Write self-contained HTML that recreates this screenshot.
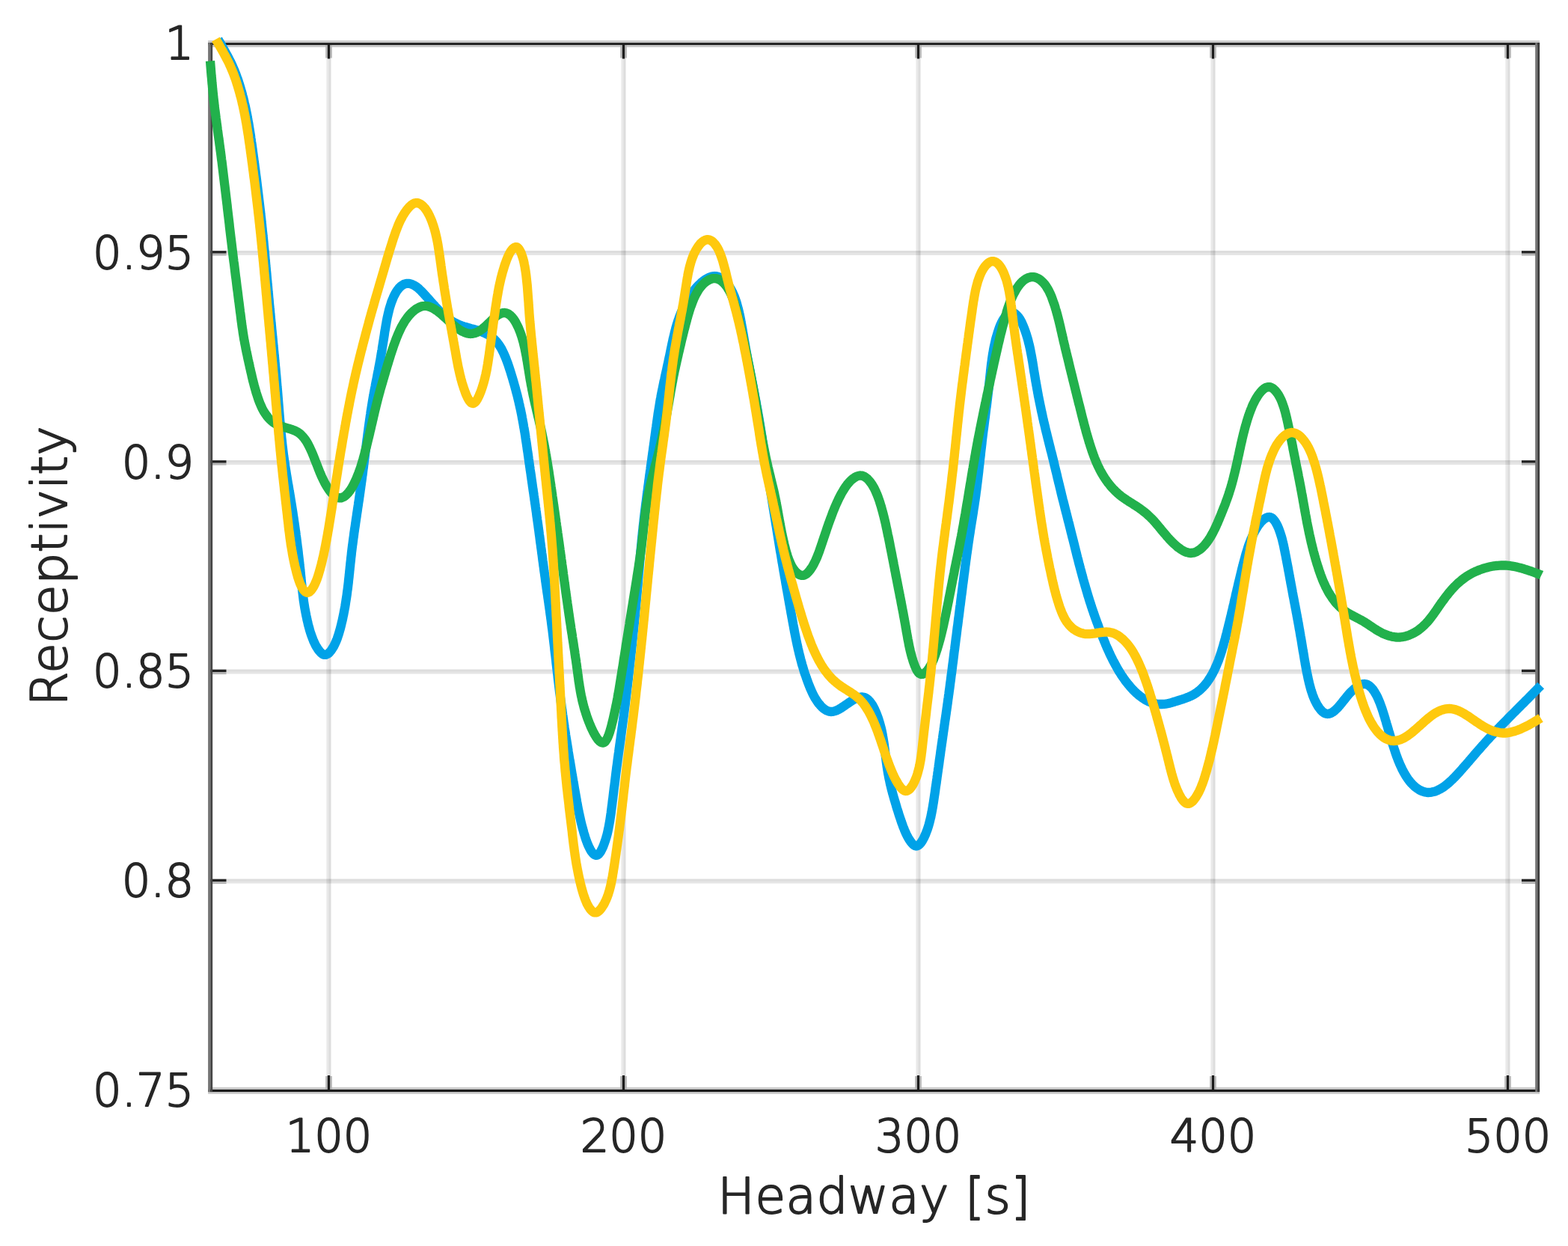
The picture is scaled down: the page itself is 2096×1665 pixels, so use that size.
<!DOCTYPE html>
<html lang="en">
<head>
<meta charset="utf-8">
<title>Receptivity vs Headway</title>
<style>
html,body{margin:0;padding:0;background:#fff;}
body{width:2096px;height:1665px;overflow:hidden;font-family:"DejaVu Sans","Liberation Sans",sans-serif;}
svg{display:block;filter:blur(0.75px);}
</style>
</head>
<body>
<svg width="2096" height="1665" viewBox="0 0 2096 1665">
<rect x="0" y="0" width="2096" height="1665" fill="#ffffff"/>
<rect x="436.4" y="58.5" width="3.1" height="1398.5" fill="#000" fill-opacity="0.085"/>
<rect x="439.5" y="58.5" width="3.0" height="1398.5" fill="#000" fill-opacity="0.135"/>
<rect x="830.4" y="58.5" width="3.1" height="1398.5" fill="#000" fill-opacity="0.085"/>
<rect x="833.5" y="58.5" width="3.0" height="1398.5" fill="#000" fill-opacity="0.135"/>
<rect x="1224.4" y="58.5" width="3.1" height="1398.5" fill="#000" fill-opacity="0.085"/>
<rect x="1227.5" y="58.5" width="3.0" height="1398.5" fill="#000" fill-opacity="0.135"/>
<rect x="1618.4" y="58.5" width="3.1" height="1398.5" fill="#000" fill-opacity="0.085"/>
<rect x="1621.5" y="58.5" width="3.0" height="1398.5" fill="#000" fill-opacity="0.135"/>
<rect x="2012.4" y="58.5" width="3.1" height="1398.5" fill="#000" fill-opacity="0.085"/>
<rect x="2015.5" y="58.5" width="3.0" height="1398.5" fill="#000" fill-opacity="0.135"/>
<rect x="281.5" y="335.0" width="1773.5" height="3.0" fill="#000" fill-opacity="0.135"/>
<rect x="281.5" y="338.0" width="1773.5" height="3.0" fill="#000" fill-opacity="0.10"/>
<rect x="281.5" y="615.0" width="1773.5" height="3.0" fill="#000" fill-opacity="0.135"/>
<rect x="281.5" y="618.0" width="1773.5" height="3.0" fill="#000" fill-opacity="0.10"/>
<rect x="281.5" y="894.5" width="1773.5" height="3.0" fill="#000" fill-opacity="0.135"/>
<rect x="281.5" y="897.5" width="1773.5" height="3.0" fill="#000" fill-opacity="0.10"/>
<rect x="281.5" y="1174.5" width="1773.5" height="3.0" fill="#000" fill-opacity="0.135"/>
<rect x="281.5" y="1177.5" width="1773.5" height="3.0" fill="#000" fill-opacity="0.10"/>
<rect x="278.1" y="54.1" width="1780.0" height="9" fill="#cacaca"/>
<rect x="278.1" y="1452.8" width="1780.0" height="9.1" fill="#cdcdcd"/>
<rect x="435.2" y="1438.0" width="8.6" height="19" fill="#b6b6b6"/>
<rect x="435.2" y="58.5" width="8.6" height="19" fill="#b6b6b6"/>
<rect x="437.9" y="1437.0" width="3.2" height="20" fill="#1c1c1c"/>
<rect x="437.9" y="58.5" width="3.2" height="20" fill="#1c1c1c"/>
<rect x="829.2" y="1438.0" width="8.6" height="19" fill="#b6b6b6"/>
<rect x="829.2" y="58.5" width="8.6" height="19" fill="#b6b6b6"/>
<rect x="831.9" y="1437.0" width="3.2" height="20" fill="#1c1c1c"/>
<rect x="831.9" y="58.5" width="3.2" height="20" fill="#1c1c1c"/>
<rect x="1223.2" y="1438.0" width="8.6" height="19" fill="#b6b6b6"/>
<rect x="1223.2" y="58.5" width="8.6" height="19" fill="#b6b6b6"/>
<rect x="1225.9" y="1437.0" width="3.2" height="20" fill="#1c1c1c"/>
<rect x="1225.9" y="58.5" width="3.2" height="20" fill="#1c1c1c"/>
<rect x="1617.2" y="1438.0" width="8.6" height="19" fill="#b6b6b6"/>
<rect x="1617.2" y="58.5" width="8.6" height="19" fill="#b6b6b6"/>
<rect x="1619.9" y="1437.0" width="3.2" height="20" fill="#1c1c1c"/>
<rect x="1619.9" y="58.5" width="3.2" height="20" fill="#1c1c1c"/>
<rect x="2011.2" y="1438.0" width="8.6" height="19" fill="#b6b6b6"/>
<rect x="2011.2" y="58.5" width="8.6" height="19" fill="#b6b6b6"/>
<rect x="2013.9" y="1437.0" width="3.2" height="20" fill="#1c1c1c"/>
<rect x="2013.9" y="58.5" width="3.2" height="20" fill="#1c1c1c"/>
<rect x="281.5" y="338.4" width="21" height="3.2" fill="#b4b4b4"/>
<rect x="2034.0" y="338.4" width="21" height="3.2" fill="#b4b4b4"/>
<rect x="281.5" y="335.2" width="21" height="3.3" fill="#222222"/>
<rect x="2034.0" y="335.2" width="21" height="3.3" fill="#222222"/>
<rect x="281.5" y="618.4" width="21" height="3.2" fill="#b4b4b4"/>
<rect x="2034.0" y="618.4" width="21" height="3.2" fill="#b4b4b4"/>
<rect x="281.5" y="615.2" width="21" height="3.3" fill="#222222"/>
<rect x="2034.0" y="615.2" width="21" height="3.3" fill="#222222"/>
<rect x="281.5" y="897.9" width="21" height="3.2" fill="#b4b4b4"/>
<rect x="2034.0" y="897.9" width="21" height="3.2" fill="#b4b4b4"/>
<rect x="281.5" y="894.7" width="21" height="3.3" fill="#222222"/>
<rect x="2034.0" y="894.7" width="21" height="3.3" fill="#222222"/>
<rect x="281.5" y="1177.9" width="21" height="3.2" fill="#b4b4b4"/>
<rect x="2034.0" y="1177.9" width="21" height="3.2" fill="#b4b4b4"/>
<rect x="281.5" y="1174.7" width="21" height="3.3" fill="#222222"/>
<rect x="2034.0" y="1174.7" width="21" height="3.3" fill="#222222"/>
<rect x="278.1" y="57.2" width="1780.0" height="2.9" fill="#1b1b1b"/>
<rect x="278.1" y="1455.9" width="1780.0" height="3.2" fill="#1b1b1b"/>
<rect x="278.1" y="57.2" width="3.15" height="1401.9" fill="#757575"/>
<rect x="281.25" y="57.2" width="2.9" height="1401.9" fill="#444444"/>
<rect x="2052.2" y="57.2" width="3.0" height="1401.9" fill="#757575"/>
<rect x="2055.2" y="57.2" width="2.9" height="1401.9" fill="#3c3c3c"/>
<g fill="none" stroke-width="12.3" stroke-linejoin="round" stroke-linecap="butt">
<path stroke="#00a2e8" d="M291.5,52.5 L292.7,54.7 L294.0,56.8 L295.2,59.0 L296.5,61.2 L297.7,63.4 L298.9,65.5 L300.2,67.7 L301.4,69.9 L302.6,72.1 L303.8,74.3 L305.0,76.5 L306.1,78.7 L307.3,80.9 L308.4,83.1 L309.5,85.4 L310.5,87.6 L311.5,89.9 L312.5,92.2 L313.5,94.5 L314.4,96.8 L315.3,99.1 L316.2,101.4 L317.0,103.8 L317.9,106.1 L318.7,108.5 L319.4,110.9 L320.2,113.3 L320.9,115.6 L321.6,118.0 L322.3,120.4 L323.0,122.8 L323.7,125.2 L324.3,127.7 L325.0,130.1 L325.6,132.5 L326.2,134.9 L326.7,137.4 L327.3,139.8 L327.9,142.2 L328.4,144.7 L328.9,147.1 L329.4,149.6 L329.9,152.0 L330.4,154.5 L330.8,156.9 L331.3,159.4 L331.7,161.9 L332.2,164.3 L332.6,166.8 L333.0,169.3 L333.4,171.7 L333.8,174.2 L334.2,176.7 L334.6,179.2 L335.0,181.6 L335.3,184.1 L335.7,186.6 L336.0,189.1 L336.4,191.5 L336.8,194.0 L337.1,196.5 L337.5,199.0 L337.8,201.5 L338.1,203.9 L338.5,206.4 L338.8,208.9 L339.2,211.4 L339.5,213.9 L339.8,216.3 L340.2,218.8 L340.5,221.3 L340.8,223.8 L341.2,226.3 L341.5,228.7 L341.8,231.2 L342.1,233.7 L342.5,236.2 L342.8,238.7 L343.1,241.1 L343.4,243.6 L343.7,246.1 L344.0,248.6 L344.3,251.1 L344.6,253.6 L344.9,256.0 L345.2,258.5 L345.5,261.0 L345.8,263.5 L346.1,266.0 L346.4,268.4 L346.7,270.9 L347.0,273.4 L347.3,275.9 L347.6,278.4 L347.9,280.9 L348.2,283.3 L348.4,285.8 L348.7,288.3 L349.0,290.8 L349.3,293.3 L349.5,295.8 L349.8,298.2 L350.1,300.7 L350.3,303.2 L350.6,305.7 L350.8,308.2 L351.1,310.7 L351.4,313.2 L351.6,315.6 L351.9,318.1 L352.1,320.6 L352.4,323.1 L352.6,325.6 L352.8,328.1 L353.1,330.6 L353.3,333.1 L353.6,335.5 L353.8,338.0 L354.0,340.5 L354.3,343.0 L354.5,345.5 L354.7,348.0 L355.0,350.5 L355.2,353.0 L355.4,355.5 L355.7,357.9 L355.9,360.4 L356.1,362.9 L356.4,365.4 L356.6,367.9 L356.8,370.4 L357.0,372.9 L357.3,375.4 L357.5,377.9 L357.7,380.3 L358.0,382.8 L358.2,385.3 L358.4,387.8 L358.6,390.3 L358.9,392.8 L359.1,395.3 L359.3,397.8 L359.6,400.3 L359.8,402.8 L360.0,405.2 L360.2,407.7 L360.5,410.2 L360.7,412.7 L361.0,415.2 L361.2,417.7 L361.4,420.2 L361.7,422.7 L361.9,425.2 L362.1,427.6 L362.4,430.1 L362.6,432.6 L362.9,435.1 L363.1,437.6 L363.3,440.1 L363.6,442.6 L363.8,445.1 L364.1,447.6 L364.3,450.0 L364.6,452.5 L364.8,455.0 L365.0,457.5 L365.3,460.0 L365.5,462.5 L365.8,465.0 L366.0,467.5 L366.2,469.9 L366.5,472.4 L366.7,474.9 L367.0,477.4 L367.2,479.9 L367.4,482.4 L367.7,484.9 L367.9,487.4 L368.1,489.9 L368.4,492.3 L368.6,494.8 L368.8,497.3 L369.0,499.8 L369.3,502.3 L369.5,504.8 L369.7,507.3 L369.9,509.8 L370.1,512.3 L370.3,514.8 L370.5,517.3 L370.8,519.7 L371.0,522.2 L371.2,524.7 L371.4,527.2 L371.6,529.7 L371.8,532.2 L372.0,534.7 L372.2,537.2 L372.4,539.7 L372.6,542.2 L372.8,544.7 L373.0,547.2 L373.2,549.7 L373.4,552.2 L373.6,554.7 L373.8,557.1 L374.0,559.6 L374.2,562.1 L374.4,564.6 L374.7,567.1 L374.9,569.6 L375.1,572.1 L375.3,574.6 L375.6,577.1 L375.8,579.6 L376.1,582.0 L376.3,584.5 L376.6,587.0 L376.9,589.5 L377.1,592.0 L377.4,594.5 L377.7,597.0 L378.0,599.4 L378.3,601.9 L378.6,604.4 L378.9,606.9 L379.2,609.3 L379.6,611.8 L379.9,614.3 L380.3,616.8 L380.6,619.2 L381.0,621.7 L381.4,624.2 L381.8,626.7 L382.2,629.1 L382.6,631.6 L383.0,634.1 L383.4,636.5 L383.8,639.0 L384.2,641.4 L384.6,643.9 L385.0,646.4 L385.5,648.8 L385.9,651.3 L386.3,653.8 L386.7,656.2 L387.2,658.7 L387.6,661.2 L388.0,663.6 L388.4,666.1 L388.8,668.6 L389.2,671.0 L389.6,673.5 L390.0,676.0 L390.4,678.5 L390.8,680.9 L391.2,683.4 L391.6,685.9 L391.9,688.4 L392.3,690.8 L392.7,693.3 L393.0,695.8 L393.4,698.3 L393.8,700.7 L394.1,703.2 L394.5,705.7 L394.8,708.2 L395.2,710.6 L395.5,713.1 L395.8,715.6 L396.2,718.1 L396.5,720.5 L396.8,723.0 L397.1,725.5 L397.4,728.0 L397.7,730.4 L398.1,732.9 L398.4,735.4 L398.7,737.9 L398.9,740.3 L399.2,742.8 L399.5,745.3 L399.8,747.8 L400.1,750.2 L400.4,752.7 L400.6,755.2 L400.9,757.7 L401.2,760.1 L401.4,762.6 L401.7,765.1 L401.9,767.5 L402.2,770.0 L402.4,772.5 L402.7,774.9 L402.9,777.4 L403.2,779.9 L403.4,782.4 L403.7,784.8 L404.0,787.3 L404.3,789.8 L404.6,792.3 L404.9,794.8 L405.2,797.3 L405.5,799.9 L405.8,802.4 L406.2,804.9 L406.6,807.5 L407.0,810.0 L407.4,812.6 L407.9,815.2 L408.4,817.8 L408.9,820.4 L409.4,823.0 L410.0,825.7 L410.5,828.3 L411.2,831.0 L411.8,833.7 L412.5,836.4 L413.3,839.2 L414.0,841.9 L414.8,844.6 L415.7,847.3 L416.6,849.9 L417.6,852.5 L418.6,855.1 L419.6,857.6 L420.8,860.0 L421.9,862.3 L423.2,864.5 L424.5,866.6 L425.9,868.6 L427.3,870.4 L428.8,872.0 L430.3,873.3 L431.8,874.3 L433.3,874.8 L434.9,874.9 L436.4,874.6 L438.0,873.8 L439.5,872.7 L440.9,871.2 L442.4,869.5 L443.7,867.6 L445.0,865.5 L446.3,863.4 L447.4,861.1 L448.5,858.7 L449.6,856.2 L450.6,853.7 L451.5,851.1 L452.4,848.4 L453.2,845.7 L454.0,843.0 L454.8,840.3 L455.5,837.5 L456.2,834.8 L456.8,832.0 L457.5,829.3 L458.1,826.6 L458.6,824.0 L459.2,821.3 L459.7,818.6 L460.2,816.0 L460.7,813.4 L461.2,810.8 L461.6,808.2 L462.0,805.6 L462.4,803.1 L462.8,800.5 L463.2,798.0 L463.6,795.4 L463.9,792.9 L464.2,790.4 L464.6,787.9 L464.9,785.4 L465.2,782.9 L465.5,780.4 L465.8,778.0 L466.0,775.5 L466.3,773.0 L466.6,770.6 L466.8,768.1 L467.1,765.7 L467.3,763.2 L467.6,760.8 L467.8,758.3 L468.1,755.9 L468.3,753.5 L468.6,751.0 L468.9,748.6 L469.1,746.1 L469.4,743.7 L469.7,741.3 L469.9,738.8 L470.2,736.4 L470.5,733.9 L470.8,731.5 L471.1,729.0 L471.5,726.5 L471.8,724.1 L472.1,721.6 L472.4,719.2 L472.8,716.7 L473.1,714.2 L473.4,711.8 L473.8,709.3 L474.1,706.8 L474.5,704.4 L474.9,701.9 L475.2,699.4 L475.6,696.9 L475.9,694.5 L476.3,692.0 L476.7,689.5 L477.0,687.0 L477.4,684.5 L477.8,682.1 L478.1,679.6 L478.5,677.1 L478.9,674.6 L479.2,672.1 L479.6,669.7 L480.0,667.2 L480.3,664.7 L480.7,662.2 L481.0,659.7 L481.4,657.2 L481.7,654.8 L482.1,652.3 L482.4,649.8 L482.8,647.3 L483.1,644.8 L483.5,642.3 L483.8,639.9 L484.1,637.4 L484.5,634.9 L484.8,632.4 L485.1,629.9 L485.4,627.4 L485.8,625.0 L486.1,622.5 L486.4,620.0 L486.7,617.5 L487.0,615.0 L487.4,612.6 L487.7,610.1 L488.0,607.6 L488.3,605.1 L488.6,602.6 L488.9,600.2 L489.3,597.7 L489.6,595.2 L489.9,592.7 L490.2,590.3 L490.5,587.8 L490.9,585.3 L491.2,582.8 L491.5,580.3 L491.8,577.9 L492.2,575.4 L492.5,572.9 L492.8,570.4 L493.2,568.0 L493.5,565.5 L493.9,563.0 L494.2,560.5 L494.6,558.1 L494.9,555.6 L495.3,553.1 L495.6,550.6 L496.0,548.2 L496.4,545.7 L496.8,543.2 L497.2,540.8 L497.6,538.3 L498.0,535.8 L498.4,533.4 L498.8,530.9 L499.3,528.4 L499.7,526.0 L500.2,523.5 L500.6,521.1 L501.1,518.6 L501.6,516.2 L502.0,513.7 L502.5,511.3 L503.0,508.8 L503.5,506.4 L504.0,503.9 L504.4,501.5 L504.9,499.0 L505.4,496.6 L505.9,494.1 L506.3,491.7 L506.8,489.2 L507.3,486.8 L507.7,484.3 L508.2,481.9 L508.6,479.4 L509.0,476.9 L509.4,474.5 L509.8,472.0 L510.3,469.6 L510.7,467.1 L511.0,464.6 L511.4,462.2 L511.8,459.7 L512.2,457.2 L512.6,454.7 L513.0,452.2 L513.4,449.7 L513.8,447.2 L514.1,444.7 L514.5,442.2 L515.0,439.7 L515.4,437.2 L515.8,434.6 L516.3,432.1 L516.7,429.5 L517.2,427.0 L517.7,424.4 L518.3,421.8 L518.9,419.2 L519.5,416.7 L520.1,414.1 L520.8,411.5 L521.6,409.0 L522.4,406.5 L523.2,403.9 L524.2,401.4 L525.2,399.0 L526.2,396.5 L527.4,394.2 L528.6,391.9 L529.9,389.7 L531.3,387.6 L532.8,385.7 L534.4,383.9 L536.1,382.3 L538.0,381.0 L539.9,379.9 L541.9,379.2 L544.0,378.8 L546.2,378.8 L548.5,379.2 L550.8,380.0 L553.0,381.0 L555.2,382.3 L557.3,383.7 L559.3,385.3 L561.2,387.1 L563.1,388.9 L564.9,390.8 L566.6,392.7 L568.3,394.6 L570.1,396.5 L571.8,398.4 L573.4,400.2 L575.1,402.1 L576.8,404.0 L578.5,405.9 L580.2,407.7 L581.9,409.6 L583.6,411.4 L585.3,413.2 L587.0,415.0 L588.8,416.8 L590.6,418.5 L592.4,420.2 L594.3,421.8 L596.2,423.4 L598.1,425.0 L600.1,426.4 L602.2,427.9 L604.2,429.2 L606.3,430.5 L608.5,431.7 L610.7,432.7 L613.0,433.8 L615.3,434.7 L617.7,435.5 L620.0,436.3 L622.4,437.0 L624.9,437.7 L627.3,438.4 L629.8,439.1 L632.2,439.7 L634.6,440.4 L637.1,441.1 L639.5,441.9 L641.8,442.6 L644.2,443.5 L646.5,444.4 L648.7,445.4 L650.9,446.5 L653.0,447.7 L655.1,448.9 L657.0,450.3 L658.9,451.8 L660.7,453.4 L662.4,455.1 L664.0,456.9 L665.5,458.8 L667.0,460.7 L668.3,462.8 L669.6,464.8 L670.8,467.0 L671.9,469.2 L673.0,471.4 L674.0,473.7 L675.0,476.0 L676.0,478.4 L676.9,480.7 L677.8,483.1 L678.7,485.5 L679.5,487.9 L680.3,490.3 L681.1,492.7 L681.9,495.2 L682.7,497.6 L683.4,500.0 L684.1,502.4 L684.9,504.9 L685.6,507.3 L686.3,509.7 L687.0,512.2 L687.7,514.6 L688.4,517.0 L689.0,519.4 L689.7,521.9 L690.3,524.3 L691.0,526.7 L691.6,529.1 L692.2,531.6 L692.8,534.0 L693.4,536.4 L693.9,538.9 L694.5,541.3 L695.0,543.8 L695.6,546.2 L696.1,548.6 L696.6,551.1 L697.1,553.5 L697.6,556.0 L698.0,558.5 L698.5,560.9 L698.9,563.4 L699.4,565.8 L699.8,568.3 L700.2,570.8 L700.7,573.2 L701.1,575.7 L701.5,578.1 L701.9,580.6 L702.3,583.1 L702.6,585.6 L703.0,588.0 L703.4,590.5 L703.8,593.0 L704.1,595.4 L704.5,597.9 L704.8,600.4 L705.2,602.9 L705.6,605.3 L705.9,607.8 L706.3,610.3 L706.6,612.8 L707.0,615.2 L707.3,617.7 L707.7,620.2 L708.0,622.7 L708.4,625.1 L708.7,627.6 L709.1,630.1 L709.5,632.6 L709.8,635.0 L710.2,637.5 L710.5,640.0 L710.9,642.5 L711.2,644.9 L711.6,647.4 L711.9,649.9 L712.3,652.4 L712.6,654.8 L713.0,657.3 L713.4,659.8 L713.7,662.3 L714.1,664.7 L714.4,667.2 L714.8,669.7 L715.1,672.2 L715.5,674.6 L715.8,677.1 L716.2,679.6 L716.5,682.1 L716.9,684.5 L717.2,687.0 L717.5,689.5 L717.9,692.0 L718.2,694.5 L718.6,696.9 L718.9,699.4 L719.3,701.9 L719.6,704.4 L719.9,706.8 L720.3,709.3 L720.6,711.8 L720.9,714.3 L721.3,716.7 L721.6,719.2 L721.9,721.7 L722.2,724.2 L722.6,726.7 L722.9,729.1 L723.2,731.6 L723.6,734.1 L723.9,736.6 L724.2,739.1 L724.6,741.5 L724.9,744.0 L725.2,746.5 L725.5,749.0 L725.9,751.4 L726.2,753.9 L726.5,756.4 L726.9,758.9 L727.2,761.4 L727.5,763.8 L727.9,766.3 L728.2,768.8 L728.6,771.3 L728.9,773.7 L729.2,776.2 L729.6,778.7 L729.9,781.2 L730.3,783.6 L730.6,786.1 L731.0,788.6 L731.3,791.1 L731.7,793.5 L732.1,796.0 L732.4,798.5 L732.8,801.0 L733.1,803.4 L733.5,805.9 L733.8,808.4 L734.2,810.9 L734.5,813.3 L734.9,815.8 L735.2,818.3 L735.5,820.8 L735.9,823.2 L736.2,825.7 L736.6,828.2 L736.9,830.7 L737.2,833.2 L737.5,835.6 L737.8,838.1 L738.2,840.6 L738.5,843.1 L738.8,845.6 L739.1,848.0 L739.4,850.5 L739.7,853.0 L740.0,855.5 L740.3,858.0 L740.6,860.4 L740.9,862.9 L741.2,865.4 L741.4,867.9 L741.7,870.4 L742.0,872.9 L742.3,875.3 L742.6,877.8 L742.9,880.3 L743.2,882.8 L743.4,885.3 L743.7,887.8 L744.0,890.2 L744.3,892.7 L744.6,895.2 L744.9,897.7 L745.2,900.2 L745.5,902.7 L745.7,905.1 L746.0,907.6 L746.3,910.1 L746.6,912.6 L746.9,915.1 L747.2,917.6 L747.5,920.0 L747.8,922.5 L748.1,925.0 L748.5,927.5 L748.8,930.0 L749.1,932.5 L749.4,934.9 L749.7,937.4 L750.1,939.9 L750.4,942.4 L750.7,944.9 L751.1,947.3 L751.4,949.8 L751.8,952.3 L752.1,954.8 L752.5,957.2 L752.8,959.7 L753.2,962.2 L753.5,964.7 L753.9,967.1 L754.3,969.6 L754.6,972.1 L755.0,974.6 L755.4,977.0 L755.8,979.5 L756.1,982.0 L756.5,984.4 L756.9,986.9 L757.3,989.3 L757.7,991.8 L758.1,994.3 L758.5,996.7 L758.9,999.2 L759.3,1001.6 L759.6,1004.1 L760.0,1006.5 L760.4,1009.0 L760.8,1011.4 L761.2,1013.9 L761.6,1016.3 L762.1,1018.8 L762.5,1021.2 L762.9,1023.7 L763.3,1026.1 L763.7,1028.6 L764.1,1031.0 L764.5,1033.5 L764.9,1035.9 L765.4,1038.4 L765.8,1040.9 L766.2,1043.4 L766.6,1045.8 L767.1,1048.3 L767.5,1050.8 L767.9,1053.3 L768.3,1055.8 L768.8,1058.3 L769.2,1060.8 L769.7,1063.3 L770.1,1065.8 L770.6,1068.3 L771.0,1070.9 L771.5,1073.4 L771.9,1076.0 L772.4,1078.5 L772.9,1081.1 L773.4,1083.7 L774.0,1086.3 L774.5,1088.9 L775.1,1091.5 L775.7,1094.2 L776.3,1096.8 L776.9,1099.5 L777.6,1102.2 L778.3,1104.9 L779.0,1107.6 L779.8,1110.3 L780.5,1113.1 L781.4,1115.8 L782.2,1118.6 L783.1,1121.3 L784.0,1123.9 L785.0,1126.5 L786.0,1129.0 L787.1,1131.3 L788.2,1133.6 L789.3,1135.7 L790.5,1137.6 L791.7,1139.3 L793.0,1140.8 L794.3,1141.9 L795.6,1142.6 L796.9,1142.9 L798.2,1142.7 L799.4,1142.1 L800.7,1141.0 L801.9,1139.5 L803.0,1137.8 L804.1,1135.7 L805.2,1133.5 L806.3,1131.1 L807.2,1128.7 L808.1,1126.2 L809.0,1123.6 L809.8,1121.0 L810.6,1118.4 L811.3,1115.8 L812.0,1113.1 L812.6,1110.4 L813.2,1107.7 L813.7,1105.0 L814.2,1102.3 L814.7,1099.5 L815.2,1096.8 L815.6,1094.0 L816.0,1091.3 L816.4,1088.6 L816.8,1085.8 L817.1,1083.1 L817.5,1080.4 L817.8,1077.7 L818.2,1075.1 L818.5,1072.4 L818.8,1069.8 L819.2,1067.2 L819.5,1064.6 L819.8,1062.1 L820.1,1059.5 L820.4,1057.0 L820.7,1054.4 L821.0,1051.9 L821.4,1049.4 L821.7,1046.9 L822.0,1044.4 L822.3,1042.0 L822.6,1039.5 L822.9,1037.0 L823.2,1034.6 L823.5,1032.1 L823.8,1029.7 L824.1,1027.2 L824.4,1024.8 L824.8,1022.3 L825.1,1019.9 L825.4,1017.4 L825.7,1015.0 L826.1,1012.5 L826.4,1010.1 L826.7,1007.6 L827.1,1005.1 L827.4,1002.7 L827.7,1000.2 L828.1,997.7 L828.4,995.3 L828.8,992.8 L829.1,990.3 L829.5,987.9 L829.8,985.4 L830.1,982.9 L830.5,980.4 L830.8,978.0 L831.2,975.5 L831.5,973.0 L831.9,970.5 L832.2,968.1 L832.5,965.6 L832.9,963.1 L833.2,960.6 L833.5,958.2 L833.9,955.7 L834.2,953.2 L834.5,950.7 L834.8,948.2 L835.2,945.7 L835.5,943.3 L835.8,940.8 L836.1,938.3 L836.4,935.8 L836.7,933.3 L837.0,930.9 L837.3,928.4 L837.6,925.9 L837.9,923.4 L838.2,920.9 L838.5,918.4 L838.8,916.0 L839.1,913.5 L839.4,911.0 L839.7,908.5 L840.0,906.0 L840.2,903.5 L840.5,901.1 L840.8,898.6 L841.1,896.1 L841.4,893.6 L841.6,891.1 L841.9,888.6 L842.2,886.1 L842.5,883.7 L842.7,881.2 L843.0,878.7 L843.3,876.2 L843.5,873.7 L843.8,871.2 L844.1,868.8 L844.4,866.3 L844.6,863.8 L844.9,861.3 L845.1,858.8 L845.4,856.3 L845.7,853.8 L845.9,851.4 L846.2,848.9 L846.4,846.4 L846.7,843.9 L847.0,841.4 L847.2,838.9 L847.5,836.4 L847.7,833.9 L848.0,831.5 L848.2,829.0 L848.5,826.5 L848.7,824.0 L848.9,821.5 L849.2,819.0 L849.4,816.5 L849.7,814.0 L849.9,811.5 L850.1,809.1 L850.4,806.6 L850.6,804.1 L850.8,801.6 L851.0,799.1 L851.3,796.6 L851.5,794.1 L851.7,791.6 L851.9,789.1 L852.1,786.6 L852.4,784.2 L852.6,781.7 L852.8,779.2 L853.0,776.7 L853.2,774.2 L853.4,771.7 L853.6,769.2 L853.8,766.7 L854.1,764.2 L854.3,761.7 L854.5,759.2 L854.7,756.8 L854.9,754.3 L855.1,751.8 L855.3,749.3 L855.6,746.8 L855.8,744.3 L856.0,741.8 L856.2,739.3 L856.4,736.8 L856.7,734.3 L856.9,731.9 L857.1,729.4 L857.4,726.9 L857.6,724.4 L857.8,721.9 L858.1,719.4 L858.3,716.9 L858.6,714.4 L858.8,711.9 L859.1,709.5 L859.4,707.0 L859.6,704.5 L859.9,702.0 L860.2,699.5 L860.5,697.0 L860.7,694.6 L861.0,692.1 L861.3,689.6 L861.6,687.1 L861.9,684.6 L862.2,682.1 L862.5,679.7 L862.8,677.2 L863.1,674.7 L863.4,672.2 L863.8,669.7 L864.1,667.3 L864.4,664.8 L864.7,662.3 L865.0,659.8 L865.4,657.3 L865.7,654.9 L866.0,652.4 L866.3,649.9 L866.7,647.4 L867.0,644.9 L867.3,642.5 L867.7,640.0 L868.0,637.5 L868.3,635.0 L868.7,632.6 L869.0,630.1 L869.4,627.6 L869.7,625.1 L870.0,622.7 L870.4,620.2 L870.7,617.7 L871.1,615.2 L871.4,612.7 L871.7,610.3 L872.1,607.8 L872.4,605.3 L872.8,602.8 L873.1,600.4 L873.4,597.9 L873.8,595.4 L874.1,592.9 L874.5,590.4 L874.8,588.0 L875.1,585.5 L875.5,583.0 L875.8,580.5 L876.2,578.1 L876.5,575.6 L876.8,573.1 L877.2,570.6 L877.5,568.2 L877.9,565.7 L878.2,563.2 L878.6,560.7 L878.9,558.2 L879.3,555.8 L879.6,553.3 L880.0,550.8 L880.4,548.4 L880.8,545.9 L881.2,543.4 L881.6,541.0 L882.0,538.5 L882.4,536.0 L882.8,533.6 L883.3,531.1 L883.7,528.7 L884.2,526.2 L884.7,523.8 L885.2,521.3 L885.7,518.9 L886.2,516.4 L886.7,514.0 L887.2,511.5 L887.7,509.1 L888.3,506.6 L888.8,504.2 L889.3,501.7 L889.9,499.3 L890.4,496.9 L891.0,494.4 L891.5,492.0 L892.0,489.5 L892.6,487.1 L893.1,484.6 L893.6,482.2 L894.1,479.8 L894.7,477.3 L895.2,474.9 L895.7,472.4 L896.2,470.0 L896.7,467.5 L897.2,465.1 L897.7,462.6 L898.2,460.2 L898.8,457.7 L899.3,455.3 L899.8,452.8 L900.4,450.4 L901.0,448.0 L901.6,445.5 L902.2,443.1 L902.8,440.7 L903.4,438.3 L904.1,435.9 L904.8,433.5 L905.6,431.1 L906.3,428.7 L907.2,426.3 L908.0,424.0 L908.9,421.6 L909.8,419.3 L910.8,416.9 L911.8,414.6 L912.8,412.3 L913.9,410.0 L915.1,407.7 L916.3,405.5 L917.5,403.2 L918.8,401.0 L920.2,398.8 L921.6,396.6 L923.0,394.4 L924.5,392.2 L926.1,390.1 L927.7,388.0 L929.4,386.0 L931.1,384.0 L932.9,382.1 L934.8,380.2 L936.7,378.4 L938.6,376.7 L940.6,375.1 L942.7,373.7 L944.7,372.4 L946.9,371.3 L949.0,370.3 L951.2,369.6 L953.3,369.2 L955.5,369.0 L957.6,369.2 L959.7,369.7 L961.8,370.5 L963.7,371.5 L965.7,372.8 L967.5,374.2 L969.2,375.8 L970.9,377.6 L972.5,379.5 L974.0,381.5 L975.4,383.6 L976.7,385.8 L977.9,388.1 L979.1,390.4 L980.2,392.8 L981.3,395.2 L982.2,397.7 L983.1,400.2 L984.0,402.7 L984.8,405.2 L985.5,407.8 L986.2,410.3 L986.9,412.8 L987.5,415.4 L988.1,417.9 L988.6,420.4 L989.2,423.0 L989.7,425.5 L990.2,428.0 L990.6,430.5 L991.1,433.1 L991.6,435.6 L992.0,438.1 L992.5,440.5 L992.9,443.0 L993.3,445.5 L993.8,448.0 L994.2,450.5 L994.6,452.9 L995.0,455.4 L995.5,457.9 L995.9,460.3 L996.3,462.8 L996.7,465.3 L997.2,467.7 L997.6,470.2 L998.1,472.6 L998.5,475.1 L999.0,477.5 L999.5,480.0 L999.9,482.4 L1000.4,484.9 L1000.9,487.3 L1001.4,489.8 L1001.8,492.2 L1002.3,494.7 L1002.8,497.1 L1003.3,499.6 L1003.8,502.0 L1004.3,504.5 L1004.7,506.9 L1005.2,509.4 L1005.7,511.8 L1006.2,514.3 L1006.7,516.7 L1007.1,519.2 L1007.6,521.6 L1008.1,524.1 L1008.6,526.5 L1009.0,529.0 L1009.5,531.4 L1010.0,533.9 L1010.4,536.3 L1010.9,538.8 L1011.3,541.3 L1011.8,543.7 L1012.2,546.2 L1012.7,548.6 L1013.1,551.1 L1013.5,553.6 L1013.9,556.0 L1014.4,558.5 L1014.8,561.0 L1015.2,563.4 L1015.6,565.9 L1016.0,568.4 L1016.4,570.8 L1016.8,573.3 L1017.2,575.8 L1017.6,578.2 L1018.0,580.7 L1018.4,583.2 L1018.8,585.6 L1019.1,588.1 L1019.5,590.6 L1019.9,593.1 L1020.3,595.5 L1020.7,598.0 L1021.1,600.5 L1021.4,602.9 L1021.8,605.4 L1022.2,607.9 L1022.6,610.4 L1023.0,612.8 L1023.4,615.3 L1023.7,617.8 L1024.1,620.2 L1024.5,622.7 L1024.9,625.2 L1025.3,627.6 L1025.7,630.1 L1026.1,632.6 L1026.5,635.0 L1026.9,637.5 L1027.3,640.0 L1027.7,642.4 L1028.1,644.9 L1028.5,647.4 L1029.0,649.8 L1029.4,652.3 L1029.8,654.8 L1030.2,657.2 L1030.6,659.7 L1031.0,662.2 L1031.4,664.6 L1031.8,667.1 L1032.2,669.6 L1032.6,672.0 L1033.0,674.5 L1033.4,677.0 L1033.8,679.4 L1034.2,681.9 L1034.6,684.4 L1035.0,686.8 L1035.4,689.3 L1035.8,691.8 L1036.2,694.3 L1036.6,696.7 L1037.0,699.2 L1037.4,701.7 L1037.8,704.1 L1038.2,706.6 L1038.6,709.1 L1039.0,711.5 L1039.4,714.0 L1039.8,716.5 L1040.2,718.9 L1040.6,721.4 L1041.0,723.9 L1041.4,726.3 L1041.8,728.8 L1042.2,731.3 L1042.6,733.7 L1043.0,736.2 L1043.5,738.7 L1043.9,741.1 L1044.3,743.6 L1044.7,746.1 L1045.1,748.5 L1045.5,751.0 L1046.0,753.5 L1046.4,755.9 L1046.8,758.4 L1047.2,760.9 L1047.6,763.3 L1048.1,765.8 L1048.5,768.2 L1048.9,770.7 L1049.4,773.2 L1049.8,775.6 L1050.2,778.1 L1050.6,780.6 L1051.1,783.0 L1051.5,785.5 L1051.9,787.9 L1052.4,790.4 L1052.8,792.9 L1053.3,795.3 L1053.7,797.8 L1054.1,800.3 L1054.6,802.7 L1055.0,805.2 L1055.4,807.6 L1055.9,810.1 L1056.3,812.5 L1056.8,815.0 L1057.2,817.5 L1057.6,819.9 L1058.1,822.4 L1058.5,824.8 L1059.0,827.3 L1059.4,829.7 L1059.9,832.2 L1060.3,834.6 L1060.8,837.1 L1061.2,839.5 L1061.7,842.0 L1062.1,844.4 L1062.6,846.9 L1063.1,849.3 L1063.6,851.8 L1064.1,854.2 L1064.6,856.7 L1065.1,859.1 L1065.6,861.6 L1066.2,864.0 L1066.7,866.5 L1067.3,868.9 L1067.9,871.4 L1068.4,873.8 L1069.1,876.2 L1069.7,878.7 L1070.3,881.1 L1071.0,883.6 L1071.6,886.0 L1072.3,888.5 L1073.1,890.9 L1073.8,893.4 L1074.5,895.8 L1075.3,898.3 L1076.1,900.8 L1077.0,903.2 L1077.8,905.7 L1078.7,908.2 L1079.6,910.7 L1080.5,913.1 L1081.5,915.6 L1082.5,918.1 L1083.5,920.6 L1084.6,923.1 L1085.7,925.5 L1086.9,927.9 L1088.1,930.3 L1089.4,932.6 L1090.8,934.8 L1092.2,937.0 L1093.7,939.1 L1095.3,941.1 L1097.0,943.1 L1098.7,944.9 L1100.5,946.5 L1102.4,947.9 L1104.3,949.1 L1106.3,950.0 L1108.4,950.7 L1110.5,951.0 L1112.6,950.9 L1114.8,950.5 L1117.0,949.8 L1119.3,948.9 L1121.6,947.7 L1123.9,946.4 L1126.1,944.9 L1128.4,943.4 L1130.7,941.8 L1133.0,940.2 L1135.3,938.6 L1137.6,937.1 L1139.9,935.6 L1142.1,934.4 L1144.4,933.3 L1146.6,932.4 L1148.8,931.8 L1150.9,931.5 L1153.0,931.5 L1155.0,931.8 L1156.8,932.5 L1158.6,933.6 L1160.3,934.9 L1161.9,936.5 L1163.4,938.3 L1164.9,940.2 L1166.3,942.4 L1167.6,944.7 L1168.8,947.1 L1169.9,949.5 L1171.0,952.0 L1172.0,954.5 L1173.0,957.1 L1173.9,959.6 L1174.7,962.1 L1175.5,964.7 L1176.2,967.2 L1176.9,969.7 L1177.6,972.3 L1178.2,974.8 L1178.8,977.4 L1179.3,980.0 L1179.8,982.5 L1180.2,985.1 L1180.7,987.7 L1181.1,990.2 L1181.5,992.8 L1181.9,995.3 L1182.2,997.9 L1182.6,1000.5 L1182.9,1003.0 L1183.2,1005.6 L1183.5,1008.1 L1183.9,1010.7 L1184.2,1013.2 L1184.5,1015.7 L1184.8,1018.2 L1185.2,1020.8 L1185.5,1023.3 L1185.9,1025.8 L1186.3,1028.3 L1186.7,1030.7 L1187.1,1033.2 L1187.6,1035.7 L1188.0,1038.1 L1188.5,1040.6 L1189.1,1043.0 L1189.6,1045.5 L1190.1,1047.9 L1190.7,1050.3 L1191.3,1052.8 L1191.9,1055.3 L1192.6,1057.7 L1193.2,1060.2 L1193.9,1062.7 L1194.6,1065.1 L1195.3,1067.6 L1196.1,1070.2 L1196.8,1072.7 L1197.6,1075.2 L1198.3,1077.8 L1199.1,1080.4 L1200.0,1083.0 L1200.8,1085.6 L1201.6,1088.3 L1202.5,1090.9 L1203.4,1093.6 L1204.3,1096.3 L1205.2,1099.0 L1206.2,1101.7 L1207.1,1104.3 L1208.2,1106.9 L1209.2,1109.5 L1210.3,1112.0 L1211.4,1114.5 L1212.6,1116.8 L1213.8,1119.1 L1215.1,1121.3 L1216.4,1123.3 L1217.7,1125.2 L1219.1,1126.9 L1220.5,1128.4 L1222.0,1129.5 L1223.4,1130.2 L1224.8,1130.5 L1226.2,1130.3 L1227.6,1129.6 L1229.0,1128.5 L1230.3,1127.1 L1231.6,1125.5 L1232.8,1123.6 L1234.0,1121.5 L1235.2,1119.3 L1236.2,1117.0 L1237.3,1114.6 L1238.2,1112.2 L1239.1,1109.8 L1240.0,1107.3 L1240.8,1104.8 L1241.6,1102.2 L1242.3,1099.6 L1243.0,1096.9 L1243.6,1094.3 L1244.3,1091.6 L1244.8,1088.8 L1245.4,1086.1 L1245.9,1083.4 L1246.4,1080.6 L1246.9,1077.9 L1247.3,1075.1 L1247.8,1072.4 L1248.2,1069.6 L1248.6,1066.9 L1249.0,1064.2 L1249.4,1061.5 L1249.8,1058.8 L1250.2,1056.1 L1250.5,1053.5 L1250.9,1050.9 L1251.3,1048.3 L1251.7,1045.7 L1252.0,1043.2 L1252.4,1040.6 L1252.7,1038.1 L1253.1,1035.6 L1253.4,1033.1 L1253.8,1030.6 L1254.1,1028.1 L1254.5,1025.6 L1254.8,1023.2 L1255.2,1020.7 L1255.5,1018.2 L1255.8,1015.8 L1256.2,1013.3 L1256.5,1010.9 L1256.9,1008.5 L1257.2,1006.0 L1257.5,1003.6 L1257.9,1001.2 L1258.2,998.7 L1258.6,996.3 L1258.9,993.8 L1259.3,991.4 L1259.6,988.9 L1260.0,986.5 L1260.3,984.0 L1260.7,981.5 L1261.0,979.1 L1261.4,976.6 L1261.7,974.2 L1262.1,971.7 L1262.4,969.2 L1262.8,966.8 L1263.1,964.3 L1263.5,961.8 L1263.9,959.3 L1264.2,956.9 L1264.6,954.4 L1264.9,951.9 L1265.3,949.4 L1265.6,947.0 L1266.0,944.5 L1266.3,942.0 L1266.7,939.5 L1267.0,937.0 L1267.3,934.6 L1267.7,932.1 L1268.0,929.6 L1268.4,927.1 L1268.7,924.6 L1269.0,922.2 L1269.4,919.7 L1269.7,917.2 L1270.0,914.7 L1270.3,912.2 L1270.7,909.8 L1271.0,907.3 L1271.3,904.8 L1271.6,902.3 L1272.0,899.8 L1272.3,897.4 L1272.6,894.9 L1272.9,892.4 L1273.2,889.9 L1273.5,887.4 L1273.9,885.0 L1274.2,882.5 L1274.5,880.0 L1274.8,877.5 L1275.1,875.0 L1275.4,872.6 L1275.7,870.1 L1276.1,867.6 L1276.4,865.1 L1276.7,862.6 L1277.0,860.2 L1277.3,857.7 L1277.6,855.2 L1277.9,852.7 L1278.3,850.2 L1278.6,847.8 L1278.9,845.3 L1279.2,842.8 L1279.5,840.3 L1279.8,837.8 L1280.2,835.4 L1280.5,832.9 L1280.8,830.4 L1281.1,827.9 L1281.4,825.4 L1281.8,823.0 L1282.1,820.5 L1282.4,818.0 L1282.7,815.5 L1283.0,813.0 L1283.3,810.6 L1283.7,808.1 L1284.0,805.6 L1284.3,803.1 L1284.6,800.6 L1284.9,798.2 L1285.2,795.7 L1285.6,793.2 L1285.9,790.7 L1286.2,788.2 L1286.5,785.8 L1286.8,783.3 L1287.1,780.8 L1287.5,778.3 L1287.8,775.8 L1288.1,773.4 L1288.4,770.9 L1288.7,768.4 L1289.1,765.9 L1289.4,763.4 L1289.7,761.0 L1290.0,758.5 L1290.3,756.0 L1290.7,753.5 L1291.0,751.0 L1291.3,748.6 L1291.7,746.1 L1292.0,743.6 L1292.3,741.1 L1292.7,738.7 L1293.0,736.2 L1293.4,733.7 L1293.7,731.2 L1294.1,728.8 L1294.4,726.3 L1294.8,723.8 L1295.2,721.3 L1295.5,718.9 L1295.9,716.4 L1296.3,713.9 L1296.7,711.5 L1297.0,709.0 L1297.4,706.5 L1297.8,704.0 L1298.2,701.6 L1298.6,699.1 L1299.0,696.6 L1299.4,694.2 L1299.8,691.7 L1300.2,689.2 L1300.6,686.8 L1301.0,684.3 L1301.3,681.8 L1301.7,679.3 L1302.1,676.9 L1302.5,674.4 L1302.8,671.9 L1303.2,669.5 L1303.6,667.0 L1303.9,664.5 L1304.3,662.0 L1304.6,659.5 L1304.9,657.1 L1305.3,654.6 L1305.6,652.1 L1305.9,649.6 L1306.2,647.1 L1306.5,644.7 L1306.8,642.2 L1307.1,639.7 L1307.4,637.2 L1307.7,634.7 L1308.0,632.2 L1308.3,629.8 L1308.5,627.3 L1308.8,624.8 L1309.1,622.3 L1309.4,619.8 L1309.7,617.3 L1309.9,614.8 L1310.2,612.4 L1310.5,609.9 L1310.8,607.4 L1311.0,604.9 L1311.3,602.4 L1311.6,600.0 L1311.9,597.5 L1312.2,595.0 L1312.5,592.5 L1312.7,590.1 L1313.0,587.6 L1313.3,585.1 L1313.6,582.6 L1313.9,580.2 L1314.2,577.7 L1314.5,575.2 L1314.9,572.8 L1315.2,570.3 L1315.5,567.9 L1315.8,565.4 L1316.1,562.9 L1316.4,560.5 L1316.8,558.0 L1317.1,555.5 L1317.4,553.1 L1317.7,550.6 L1318.0,548.1 L1318.3,545.6 L1318.7,543.2 L1319.0,540.7 L1319.3,538.2 L1319.6,535.7 L1319.9,533.2 L1320.2,530.7 L1320.5,528.2 L1320.8,525.7 L1321.1,523.2 L1321.4,520.7 L1321.7,518.2 L1322.0,515.7 L1322.3,513.2 L1322.5,510.7 L1322.8,508.1 L1323.1,505.6 L1323.3,503.1 L1323.6,500.5 L1323.9,498.0 L1324.1,495.4 L1324.4,492.9 L1324.7,490.3 L1325.0,487.7 L1325.3,485.1 L1325.7,482.6 L1326.0,480.0 L1326.4,477.4 L1326.8,474.8 L1327.2,472.2 L1327.7,469.6 L1328.1,466.9 L1328.6,464.3 L1329.2,461.7 L1329.8,459.0 L1330.4,456.4 L1331.0,453.7 L1331.7,451.1 L1332.5,448.4 L1333.3,445.8 L1334.1,443.1 L1335.0,440.4 L1335.9,437.8 L1336.9,435.3 L1338.0,432.8 L1339.1,430.5 L1340.3,428.2 L1341.6,426.1 L1342.9,424.2 L1344.3,422.4 L1345.8,420.9 L1347.3,419.6 L1348.9,418.6 L1350.5,417.9 L1352.1,417.6 L1353.8,417.7 L1355.4,418.3 L1357.0,419.3 L1358.5,420.5 L1360.0,422.0 L1361.5,423.7 L1362.8,425.6 L1364.1,427.7 L1365.3,429.9 L1366.4,432.3 L1367.5,434.7 L1368.5,437.2 L1369.5,439.7 L1370.4,442.3 L1371.3,444.8 L1372.1,447.4 L1372.9,450.0 L1373.7,452.6 L1374.4,455.2 L1375.0,457.8 L1375.7,460.4 L1376.3,463.0 L1376.9,465.6 L1377.4,468.2 L1377.9,470.8 L1378.4,473.4 L1378.9,476.0 L1379.4,478.6 L1379.8,481.2 L1380.3,483.8 L1380.7,486.4 L1381.1,488.9 L1381.5,491.5 L1381.9,494.1 L1382.3,496.7 L1382.8,499.2 L1383.2,501.7 L1383.6,504.3 L1384.0,506.8 L1384.4,509.3 L1384.9,511.8 L1385.3,514.3 L1385.8,516.8 L1386.2,519.3 L1386.7,521.8 L1387.1,524.2 L1387.6,526.7 L1388.0,529.2 L1388.5,531.6 L1389.0,534.1 L1389.5,536.5 L1390.0,538.9 L1390.5,541.4 L1391.0,543.8 L1391.5,546.2 L1392.0,548.7 L1392.5,551.1 L1393.1,553.5 L1393.6,555.9 L1394.1,558.4 L1394.7,560.8 L1395.2,563.2 L1395.8,565.6 L1396.4,568.0 L1397.0,570.5 L1397.5,572.9 L1398.1,575.3 L1398.7,577.7 L1399.3,580.1 L1399.9,582.6 L1400.5,585.0 L1401.1,587.4 L1401.7,589.8 L1402.3,592.3 L1402.9,594.7 L1403.5,597.1 L1404.1,599.5 L1404.7,602.0 L1405.4,604.4 L1406.0,606.8 L1406.6,609.2 L1407.2,611.7 L1407.8,614.1 L1408.4,616.5 L1409.0,619.0 L1409.5,621.4 L1410.1,623.8 L1410.7,626.2 L1411.3,628.7 L1411.9,631.1 L1412.5,633.5 L1413.1,636.0 L1413.6,638.4 L1414.2,640.8 L1414.8,643.3 L1415.4,645.7 L1416.0,648.1 L1416.6,650.6 L1417.2,653.0 L1417.8,655.4 L1418.3,657.8 L1418.9,660.3 L1419.5,662.7 L1420.1,665.1 L1420.7,667.6 L1421.4,670.0 L1422.0,672.4 L1422.6,674.8 L1423.2,677.2 L1423.8,679.7 L1424.4,682.1 L1425.0,684.5 L1425.7,686.9 L1426.3,689.4 L1426.9,691.8 L1427.5,694.2 L1428.1,696.6 L1428.8,699.0 L1429.4,701.5 L1430.0,703.9 L1430.6,706.3 L1431.2,708.7 L1431.8,711.2 L1432.4,713.6 L1433.0,716.0 L1433.6,718.4 L1434.3,720.9 L1434.9,723.3 L1435.5,725.7 L1436.1,728.1 L1436.7,730.6 L1437.3,733.0 L1437.9,735.4 L1438.5,737.8 L1439.1,740.3 L1439.7,742.7 L1440.3,745.1 L1441.0,747.5 L1441.6,750.0 L1442.2,752.4 L1442.8,754.8 L1443.5,757.2 L1444.1,759.6 L1444.8,762.1 L1445.4,764.5 L1446.1,766.9 L1446.7,769.3 L1447.4,771.7 L1448.0,774.1 L1448.7,776.5 L1449.4,778.9 L1450.1,781.3 L1450.8,783.7 L1451.5,786.1 L1452.2,788.5 L1452.9,790.9 L1453.6,793.3 L1454.3,795.7 L1455.1,798.1 L1455.8,800.5 L1456.5,802.9 L1457.3,805.3 L1458.1,807.6 L1458.8,810.0 L1459.6,812.4 L1460.4,814.8 L1461.2,817.1 L1462.0,819.5 L1462.9,821.9 L1463.7,824.2 L1464.5,826.6 L1465.4,828.9 L1466.2,831.3 L1467.1,833.6 L1468.0,836.0 L1468.8,838.3 L1469.7,840.7 L1470.6,843.0 L1471.5,845.3 L1472.4,847.6 L1473.4,850.0 L1474.3,852.3 L1475.3,854.6 L1476.2,856.9 L1477.2,859.2 L1478.1,861.6 L1479.1,863.9 L1480.1,866.2 L1481.2,868.5 L1482.2,870.7 L1483.2,873.0 L1484.3,875.3 L1485.4,877.6 L1486.5,879.8 L1487.6,882.1 L1488.8,884.3 L1490.0,886.5 L1491.2,888.7 L1492.4,890.9 L1493.6,893.1 L1494.9,895.3 L1496.2,897.5 L1497.6,899.6 L1498.9,901.8 L1500.3,903.9 L1501.8,906.0 L1503.2,908.0 L1504.7,910.1 L1506.3,912.1 L1507.8,914.1 L1509.5,916.1 L1511.1,918.0 L1512.8,919.9 L1514.5,921.7 L1516.3,923.6 L1518.1,925.3 L1520.0,927.0 L1521.9,928.7 L1523.8,930.2 L1525.8,931.7 L1527.9,933.1 L1530.0,934.4 L1532.1,935.7 L1534.3,936.8 L1536.5,937.8 L1538.8,938.7 L1541.1,939.4 L1543.5,940.0 L1545.9,940.5 L1548.3,940.8 L1550.7,941.0 L1553.1,941.0 L1555.6,940.9 L1558.0,940.6 L1560.4,940.2 L1562.9,939.7 L1565.3,939.1 L1567.7,938.4 L1570.1,937.6 L1572.6,936.9 L1575.0,936.1 L1577.4,935.3 L1579.8,934.6 L1582.3,933.8 L1584.6,933.0 L1587.0,932.1 L1589.3,931.2 L1591.6,930.2 L1593.8,929.1 L1595.9,927.9 L1598.0,926.6 L1600.0,925.2 L1602.0,923.7 L1603.9,922.1 L1605.7,920.5 L1607.5,918.7 L1609.2,916.9 L1610.8,915.1 L1612.4,913.1 L1613.9,911.2 L1615.3,909.1 L1616.7,907.0 L1618.0,904.9 L1619.3,902.8 L1620.6,900.6 L1621.7,898.3 L1622.9,896.1 L1624.0,893.8 L1625.0,891.5 L1626.0,889.2 L1627.0,886.9 L1628.0,884.5 L1628.9,882.2 L1629.7,879.8 L1630.6,877.4 L1631.4,875.0 L1632.2,872.6 L1633.0,870.2 L1633.7,867.8 L1634.4,865.4 L1635.2,863.0 L1635.8,860.5 L1636.5,858.1 L1637.2,855.7 L1637.9,853.3 L1638.5,850.8 L1639.1,848.4 L1639.8,846.0 L1640.4,843.5 L1641.0,841.1 L1641.6,838.7 L1642.2,836.2 L1642.8,833.8 L1643.4,831.4 L1644.0,829.0 L1644.6,826.5 L1645.2,824.1 L1645.8,821.7 L1646.3,819.2 L1646.9,816.8 L1647.5,814.4 L1648.0,812.0 L1648.6,809.6 L1649.2,807.1 L1649.7,804.7 L1650.3,802.3 L1650.8,799.9 L1651.4,797.5 L1651.9,795.0 L1652.5,792.6 L1653.1,790.2 L1653.6,787.8 L1654.2,785.4 L1654.8,782.9 L1655.3,780.5 L1655.9,778.1 L1656.5,775.6 L1657.1,773.2 L1657.7,770.7 L1658.3,768.2 L1658.9,765.8 L1659.5,763.3 L1660.1,760.8 L1660.7,758.3 L1661.4,755.7 L1662.0,753.2 L1662.7,750.7 L1663.4,748.1 L1664.1,745.5 L1664.8,743.0 L1665.5,740.4 L1666.3,737.8 L1667.1,735.2 L1667.9,732.7 L1668.7,730.1 L1669.6,727.5 L1670.6,725.0 L1671.6,722.4 L1672.6,719.9 L1673.7,717.4 L1674.8,714.9 L1676.0,712.4 L1677.3,709.9 L1678.6,707.5 L1680.0,705.2 L1681.4,703.0 L1682.9,700.8 L1684.5,698.8 L1686.0,697.0 L1687.7,695.4 L1689.3,694.0 L1691.0,692.8 L1692.8,691.8 L1694.5,691.2 L1696.2,691.0 L1697.8,691.1 L1699.4,691.7 L1700.9,692.7 L1702.3,694.1 L1703.6,695.7 L1704.9,697.5 L1706.1,699.6 L1707.2,701.7 L1708.3,704.0 L1709.3,706.4 L1710.2,708.8 L1711.1,711.3 L1711.9,713.8 L1712.7,716.4 L1713.5,719.1 L1714.2,721.8 L1714.8,724.5 L1715.5,727.2 L1716.1,729.9 L1716.6,732.6 L1717.2,735.4 L1717.7,738.1 L1718.3,740.8 L1718.8,743.4 L1719.3,746.1 L1719.8,748.7 L1720.3,751.3 L1720.8,753.9 L1721.3,756.5 L1721.8,759.0 L1722.2,761.6 L1722.7,764.1 L1723.2,766.6 L1723.6,769.1 L1724.1,771.6 L1724.5,774.1 L1725.0,776.5 L1725.4,779.0 L1725.9,781.5 L1726.4,783.9 L1726.8,786.4 L1727.3,788.8 L1727.7,791.3 L1728.2,793.7 L1728.6,796.2 L1729.1,798.6 L1729.6,801.1 L1730.0,803.5 L1730.5,805.9 L1731.0,808.4 L1731.4,810.8 L1731.9,813.3 L1732.4,815.7 L1732.8,818.2 L1733.3,820.6 L1733.7,823.1 L1734.2,825.5 L1734.6,827.9 L1735.1,830.4 L1735.5,832.8 L1736.0,835.3 L1736.4,837.7 L1736.8,840.2 L1737.3,842.6 L1737.7,845.1 L1738.1,847.5 L1738.5,850.0 L1739.0,852.4 L1739.4,854.9 L1739.8,857.3 L1740.2,859.8 L1740.6,862.3 L1741.0,864.7 L1741.4,867.2 L1741.8,869.7 L1742.3,872.2 L1742.7,874.6 L1743.1,877.1 L1743.5,879.6 L1743.9,882.1 L1744.4,884.6 L1744.8,887.2 L1745.3,889.7 L1745.7,892.2 L1746.2,894.8 L1746.7,897.4 L1747.2,899.9 L1747.8,902.5 L1748.3,905.1 L1748.9,907.8 L1749.5,910.4 L1750.1,913.0 L1750.8,915.7 L1751.5,918.3 L1752.2,921.0 L1753.0,923.6 L1753.9,926.2 L1754.7,928.7 L1755.7,931.3 L1756.7,933.8 L1757.8,936.2 L1759.0,938.6 L1760.2,940.9 L1761.6,943.2 L1763.0,945.4 L1764.5,947.4 L1766.0,949.2 L1767.6,950.8 L1769.3,952.1 L1771.0,953.1 L1772.8,953.7 L1774.6,954.0 L1776.4,953.8 L1778.3,953.3 L1780.1,952.4 L1782.0,951.2 L1783.9,949.8 L1785.7,948.1 L1787.6,946.3 L1789.4,944.3 L1791.2,942.2 L1793.0,940.1 L1794.7,937.8 L1796.6,935.5 L1798.4,933.3 L1800.2,931.0 L1802.1,928.8 L1804.0,926.6 L1806.0,924.5 L1808.0,922.6 L1810.0,920.7 L1812.0,919.1 L1814.1,917.6 L1816.1,916.3 L1818.2,915.2 L1820.3,914.5 L1822.3,914.1 L1824.3,914.0 L1826.2,914.3 L1828.0,914.9 L1829.8,916.0 L1831.5,917.3 L1833.1,918.9 L1834.7,920.6 L1836.1,922.6 L1837.5,924.7 L1838.8,927.0 L1840.1,929.2 L1841.3,931.6 L1842.4,934.0 L1843.4,936.5 L1844.5,939.0 L1845.4,941.5 L1846.3,944.0 L1847.2,946.6 L1848.1,949.2 L1848.9,951.8 L1849.7,954.4 L1850.5,956.9 L1851.3,959.5 L1852.0,962.0 L1852.8,964.5 L1853.5,967.1 L1854.3,969.6 L1855.0,972.0 L1855.7,974.5 L1856.4,977.0 L1857.2,979.4 L1857.9,981.9 L1858.6,984.3 L1859.3,986.8 L1860.1,989.2 L1860.8,991.7 L1861.6,994.1 L1862.3,996.5 L1863.1,999.0 L1863.9,1001.4 L1864.7,1003.8 L1865.5,1006.2 L1866.3,1008.6 L1867.2,1011.0 L1868.1,1013.4 L1869.0,1015.8 L1870.0,1018.2 L1871.0,1020.6 L1872.0,1022.9 L1873.1,1025.2 L1874.2,1027.6 L1875.4,1029.9 L1876.6,1032.2 L1877.9,1034.4 L1879.2,1036.6 L1880.6,1038.8 L1882.0,1040.9 L1883.5,1042.9 L1885.1,1044.9 L1886.8,1046.8 L1888.5,1048.6 L1890.3,1050.3 L1892.1,1051.9 L1894.1,1053.4 L1896.1,1054.7 L1898.1,1055.9 L1900.2,1056.9 L1902.4,1057.7 L1904.6,1058.4 L1906.9,1058.8 L1909.2,1059.0 L1911.4,1058.9 L1913.7,1058.6 L1916.0,1058.1 L1918.3,1057.5 L1920.5,1056.6 L1922.7,1055.6 L1924.9,1054.5 L1927.0,1053.2 L1929.1,1051.9 L1931.2,1050.4 L1933.2,1048.9 L1935.2,1047.3 L1937.1,1045.6 L1939.0,1043.9 L1940.9,1042.1 L1942.7,1040.3 L1944.6,1038.5 L1946.4,1036.6 L1948.1,1034.7 L1949.9,1032.8 L1951.6,1030.9 L1953.3,1029.0 L1955.0,1027.1 L1956.7,1025.1 L1958.4,1023.2 L1960.1,1021.3 L1961.7,1019.4 L1963.4,1017.4 L1965.0,1015.5 L1966.7,1013.6 L1968.3,1011.7 L1970.0,1009.7 L1971.6,1007.8 L1973.3,1005.9 L1974.9,1004.0 L1976.6,1002.1 L1978.2,1000.3 L1979.9,998.4 L1981.5,996.5 L1983.2,994.7 L1984.9,992.8 L1986.5,990.9 L1988.2,989.1 L1989.9,987.3 L1991.6,985.4 L1993.3,983.6 L1995.0,981.8 L1996.7,979.9 L1998.4,978.1 L2000.1,976.3 L2001.9,974.5 L2003.6,972.7 L2005.3,970.9 L2007.1,969.1 L2008.8,967.3 L2010.5,965.6 L2012.3,963.8 L2014.1,962.0 L2015.8,960.2 L2017.6,958.4 L2019.3,956.7 L2021.1,954.9 L2022.8,953.1 L2024.6,951.4 L2026.4,949.6 L2028.1,947.8 L2029.9,946.0 L2031.7,944.3 L2033.4,942.5 L2035.2,940.7 L2037.0,939.0 L2038.7,937.2 L2040.5,935.4 L2042.3,933.7 L2044.0,931.9 L2045.8,930.1 L2047.5,928.3 L2049.3,926.5 L2051.1,924.8 L2052.8,923.0 L2054.6,921.2 L2056.3,919.4 L2058.1,917.6 L2059.7,916.0"/>
<path stroke="#22b14c" d="M281.0,81.5 L281.2,84.0 L281.4,86.5 L281.6,89.0 L281.8,91.5 L282.0,94.0 L282.2,96.5 L282.4,98.9 L282.6,101.4 L282.9,103.9 L283.1,106.4 L283.3,108.9 L283.5,111.4 L283.8,113.9 L284.0,116.4 L284.2,118.9 L284.5,121.4 L284.7,123.8 L285.0,126.3 L285.2,128.8 L285.5,131.3 L285.8,133.8 L286.1,136.3 L286.4,138.7 L286.6,141.2 L286.9,143.7 L287.2,146.2 L287.6,148.7 L287.9,151.2 L288.2,153.6 L288.5,156.1 L288.8,158.6 L289.2,161.1 L289.5,163.5 L289.8,166.0 L290.2,168.5 L290.5,171.0 L290.8,173.5 L291.2,175.9 L291.5,178.4 L291.8,180.9 L292.2,183.4 L292.5,185.8 L292.9,188.3 L293.2,190.8 L293.5,193.3 L293.9,195.8 L294.2,198.2 L294.5,200.7 L294.9,203.2 L295.2,205.7 L295.5,208.1 L295.8,210.6 L296.1,213.1 L296.5,215.6 L296.8,218.1 L297.1,220.5 L297.4,223.0 L297.7,225.5 L298.0,228.0 L298.3,230.5 L298.6,232.9 L298.9,235.4 L299.2,237.9 L299.5,240.4 L299.8,242.9 L300.1,245.4 L300.4,247.8 L300.7,250.3 L301.0,252.8 L301.3,255.3 L301.6,257.8 L301.9,260.3 L302.2,262.7 L302.5,265.2 L302.8,267.7 L303.1,270.2 L303.4,272.7 L303.7,275.1 L303.9,277.6 L304.2,280.1 L304.5,282.6 L304.8,285.1 L305.1,287.6 L305.4,290.0 L305.7,292.5 L306.0,295.0 L306.3,297.5 L306.6,300.0 L306.8,302.5 L307.1,304.9 L307.4,307.4 L307.7,309.9 L308.0,312.4 L308.3,314.9 L308.6,317.4 L308.9,319.8 L309.2,322.3 L309.5,324.8 L309.8,327.3 L310.1,329.8 L310.4,332.3 L310.7,334.7 L311.0,337.2 L311.3,339.7 L311.6,342.2 L311.9,344.7 L312.2,347.1 L312.5,349.6 L312.9,352.1 L313.2,354.6 L313.5,357.1 L313.8,359.6 L314.1,362.0 L314.4,364.5 L314.7,367.0 L315.0,369.5 L315.4,372.0 L315.7,374.4 L316.0,376.9 L316.3,379.4 L316.6,381.9 L316.9,384.4 L317.2,386.8 L317.6,389.3 L317.9,391.8 L318.2,394.3 L318.5,396.8 L318.8,399.2 L319.1,401.7 L319.5,404.2 L319.8,406.7 L320.1,409.2 L320.4,411.6 L320.7,414.1 L321.0,416.6 L321.4,419.1 L321.7,421.5 L322.0,424.0 L322.3,426.5 L322.6,429.0 L323.0,431.5 L323.3,433.9 L323.6,436.4 L324.0,438.9 L324.4,441.3 L324.7,443.8 L325.1,446.3 L325.5,448.7 L325.9,451.2 L326.3,453.7 L326.8,456.1 L327.2,458.6 L327.7,461.0 L328.2,463.5 L328.6,465.9 L329.1,468.4 L329.6,470.8 L330.2,473.3 L330.7,475.7 L331.2,478.2 L331.7,480.6 L332.3,483.1 L332.8,485.6 L333.4,488.0 L333.9,490.5 L334.5,492.9 L335.0,495.4 L335.6,497.9 L336.2,500.3 L336.7,502.8 L337.3,505.3 L337.9,507.7 L338.5,510.2 L339.2,512.7 L339.8,515.1 L340.5,517.6 L341.2,520.1 L341.9,522.5 L342.6,525.0 L343.4,527.4 L344.2,529.9 L345.0,532.3 L345.8,534.7 L346.7,537.1 L347.7,539.5 L348.7,541.8 L349.7,544.1 L350.8,546.4 L352.0,548.6 L353.2,550.7 L354.6,552.8 L356.0,554.8 L357.5,556.8 L359.0,558.6 L360.7,560.4 L362.5,562.1 L364.3,563.6 L366.3,565.1 L368.3,566.3 L370.5,567.5 L372.8,568.5 L375.1,569.3 L377.5,570.1 L379.9,570.9 L382.4,571.6 L384.8,572.3 L387.3,573.0 L389.7,573.8 L392.0,574.7 L394.3,575.6 L396.5,576.7 L398.6,577.9 L400.5,579.3 L402.3,580.8 L404.0,582.5 L405.6,584.3 L407.1,586.2 L408.6,588.2 L409.9,590.3 L411.2,592.5 L412.4,594.7 L413.5,596.9 L414.6,599.3 L415.7,601.6 L416.8,604.0 L417.8,606.4 L418.8,608.8 L419.8,611.3 L420.7,613.8 L421.7,616.3 L422.7,618.8 L423.7,621.3 L424.7,623.9 L425.7,626.5 L426.7,629.0 L427.7,631.6 L428.8,634.1 L429.9,636.7 L431.1,639.2 L432.3,641.7 L433.5,644.1 L434.8,646.5 L436.1,648.8 L437.5,651.1 L438.9,653.3 L440.4,655.4 L442.0,657.4 L443.6,659.2 L445.2,660.8 L446.9,662.3 L448.7,663.5 L450.4,664.5 L452.3,665.1 L454.1,665.4 L455.9,665.3 L457.7,664.7 L459.5,663.9 L461.2,662.7 L462.9,661.3 L464.5,659.6 L466.1,657.8 L467.6,655.9 L469.0,653.8 L470.4,651.6 L471.7,649.3 L472.9,646.9 L474.1,644.5 L475.3,642.0 L476.4,639.6 L477.4,637.1 L478.4,634.6 L479.4,632.1 L480.3,629.5 L481.2,627.0 L482.1,624.4 L482.9,621.9 L483.7,619.3 L484.4,616.8 L485.2,614.2 L485.9,611.7 L486.6,609.1 L487.3,606.6 L487.9,604.0 L488.6,601.5 L489.2,599.0 L489.9,596.5 L490.5,594.0 L491.1,591.6 L491.7,589.1 L492.3,586.6 L492.9,584.2 L493.5,581.7 L494.1,579.3 L494.6,576.8 L495.2,574.4 L495.8,572.0 L496.3,569.6 L496.9,567.1 L497.5,564.7 L498.0,562.3 L498.6,559.9 L499.1,557.5 L499.7,555.0 L500.3,552.6 L500.8,550.2 L501.4,547.8 L502.0,545.4 L502.6,542.9 L503.2,540.5 L503.8,538.1 L504.4,535.7 L505.0,533.3 L505.6,530.9 L506.3,528.5 L506.9,526.1 L507.6,523.7 L508.2,521.3 L508.9,518.9 L509.6,516.5 L510.3,514.1 L511.0,511.7 L511.7,509.3 L512.4,506.9 L513.1,504.5 L513.8,502.1 L514.5,499.7 L515.2,497.3 L515.9,494.9 L516.6,492.5 L517.3,490.1 L518.0,487.7 L518.8,485.3 L519.5,482.9 L520.2,480.5 L521.0,478.1 L521.7,475.7 L522.5,473.2 L523.3,470.8 L524.1,468.4 L524.9,466.0 L525.7,463.6 L526.5,461.2 L527.4,458.8 L528.3,456.4 L529.2,453.9 L530.1,451.5 L531.1,449.1 L532.1,446.7 L533.1,444.3 L534.2,442.0 L535.3,439.6 L536.4,437.3 L537.7,435.0 L539.0,432.7 L540.3,430.5 L541.7,428.3 L543.2,426.2 L544.7,424.1 L546.3,422.1 L548.0,420.2 L549.8,418.3 L551.6,416.6 L553.5,415.0 L555.4,413.5 L557.4,412.2 L559.5,411.1 L561.6,410.1 L563.7,409.4 L565.9,409.0 L568.1,408.8 L570.2,409.0 L572.4,409.4 L574.6,410.1 L576.8,411.0 L578.9,412.0 L581.0,413.3 L583.2,414.7 L585.2,416.2 L587.3,417.8 L589.4,419.5 L591.4,421.3 L593.5,423.1 L595.5,424.9 L597.5,426.8 L599.5,428.6 L601.6,430.5 L603.6,432.3 L605.7,434.1 L607.7,435.8 L609.8,437.5 L611.9,439.0 L614.0,440.5 L616.2,441.8 L618.4,443.0 L620.6,444.0 L622.8,444.9 L625.0,445.5 L627.3,445.9 L629.5,446.0 L631.7,445.8 L634.0,445.3 L636.2,444.6 L638.4,443.7 L640.5,442.5 L642.7,441.1 L644.7,439.6 L646.8,437.9 L648.8,436.1 L650.8,434.2 L652.8,432.3 L654.8,430.4 L656.7,428.5 L658.7,426.6 L660.7,424.8 L662.6,423.2 L664.6,421.7 L666.6,420.4 L668.6,419.3 L670.7,418.5 L672.7,418.1 L674.6,418.0 L676.5,418.3 L678.4,419.0 L680.2,420.0 L681.9,421.2 L683.5,422.8 L685.1,424.5 L686.6,426.4 L688.0,428.5 L689.3,430.7 L690.5,433.0 L691.7,435.3 L692.9,437.7 L693.9,440.2 L694.9,442.7 L695.9,445.3 L696.7,447.8 L697.6,450.4 L698.3,453.0 L699.1,455.6 L699.8,458.2 L700.4,460.8 L701.0,463.3 L701.6,465.9 L702.1,468.5 L702.6,471.0 L703.1,473.6 L703.6,476.1 L704.0,478.6 L704.4,481.1 L704.9,483.7 L705.3,486.2 L705.7,488.7 L706.1,491.2 L706.5,493.6 L706.9,496.1 L707.3,498.6 L707.7,501.1 L708.1,503.5 L708.5,506.0 L708.9,508.4 L709.4,510.9 L709.8,513.4 L710.3,515.8 L710.8,518.2 L711.2,520.7 L711.7,523.1 L712.2,525.6 L712.7,528.0 L713.3,530.5 L713.8,532.9 L714.3,535.3 L714.9,537.8 L715.4,540.2 L716.0,542.6 L716.6,545.1 L717.1,547.5 L717.7,549.9 L718.3,552.3 L718.8,554.8 L719.4,557.2 L720.0,559.6 L720.6,562.1 L721.1,564.5 L721.7,566.9 L722.3,569.4 L722.8,571.8 L723.4,574.3 L723.9,576.7 L724.4,579.1 L724.9,581.6 L725.4,584.0 L725.9,586.5 L726.4,588.9 L726.9,591.4 L727.4,593.8 L727.8,596.3 L728.3,598.8 L728.7,601.2 L729.2,603.7 L729.6,606.1 L730.1,608.6 L730.5,611.1 L730.9,613.5 L731.3,616.0 L731.7,618.5 L732.1,620.9 L732.5,623.4 L732.9,625.9 L733.3,628.3 L733.7,630.8 L734.0,633.3 L734.4,635.8 L734.8,638.2 L735.2,640.7 L735.5,643.2 L735.9,645.6 L736.3,648.1 L736.6,650.6 L737.0,653.1 L737.4,655.5 L737.7,658.0 L738.1,660.5 L738.4,663.0 L738.8,665.4 L739.2,667.9 L739.5,670.4 L739.9,672.9 L740.2,675.3 L740.6,677.8 L740.9,680.3 L741.3,682.8 L741.7,685.2 L742.0,687.7 L742.4,690.2 L742.7,692.7 L743.1,695.1 L743.4,697.6 L743.8,700.1 L744.1,702.6 L744.5,705.0 L744.8,707.5 L745.2,710.0 L745.5,712.5 L745.9,714.9 L746.2,717.4 L746.6,719.9 L746.9,722.4 L747.3,724.8 L747.6,727.3 L747.9,729.8 L748.3,732.3 L748.6,734.8 L749.0,737.2 L749.3,739.7 L749.6,742.2 L750.0,744.7 L750.3,747.1 L750.7,749.6 L751.0,752.1 L751.3,754.6 L751.7,757.0 L752.0,759.5 L752.4,762.0 L752.7,764.5 L753.0,767.0 L753.4,769.4 L753.7,771.9 L754.0,774.4 L754.4,776.9 L754.7,779.3 L755.1,781.8 L755.4,784.3 L755.7,786.8 L756.1,789.3 L756.4,791.7 L756.8,794.2 L757.1,796.7 L757.5,799.2 L757.8,801.6 L758.2,804.1 L758.5,806.6 L758.9,809.1 L759.2,811.5 L759.6,814.0 L759.9,816.5 L760.3,819.0 L760.6,821.4 L761.0,823.9 L761.4,826.4 L761.7,828.9 L762.1,831.3 L762.5,833.8 L762.9,836.3 L763.2,838.8 L763.6,841.2 L764.0,843.7 L764.4,846.2 L764.8,848.6 L765.1,851.1 L765.5,853.6 L765.9,856.0 L766.3,858.5 L766.7,861.0 L767.0,863.4 L767.4,865.9 L767.8,868.3 L768.2,870.8 L768.5,873.3 L768.9,875.7 L769.2,878.2 L769.6,880.6 L770.0,883.0 L770.3,885.5 L770.7,887.9 L771.0,890.4 L771.3,892.8 L771.7,895.2 L772.0,897.7 L772.3,900.1 L772.6,902.5 L773.0,905.0 L773.3,907.4 L773.6,909.9 L774.0,912.3 L774.4,914.8 L774.7,917.2 L775.2,919.7 L775.6,922.2 L776.0,924.7 L776.5,927.3 L777.0,929.8 L777.6,932.4 L778.1,935.0 L778.7,937.6 L779.4,940.3 L780.1,943.0 L780.8,945.7 L781.6,948.4 L782.5,951.2 L783.4,954.0 L784.3,956.8 L785.3,959.7 L786.4,962.6 L787.5,965.5 L788.7,968.4 L789.9,971.3 L791.2,974.1 L792.5,976.8 L793.8,979.4 L795.1,981.8 L796.5,984.1 L797.8,986.1 L799.1,988.0 L800.5,989.5 L801.8,990.8 L803.1,991.7 L804.3,992.3 L805.6,992.6 L806.8,992.4 L807.9,991.9 L809.0,990.9 L810.0,989.6 L811.0,988.0 L812.0,986.1 L812.9,984.0 L813.8,981.7 L814.7,979.2 L815.5,976.5 L816.3,973.8 L817.1,971.0 L817.8,968.1 L818.5,965.2 L819.2,962.4 L819.9,959.6 L820.5,956.8 L821.1,954.0 L821.7,951.3 L822.3,948.6 L822.9,945.9 L823.4,943.2 L824.0,940.6 L824.5,938.0 L825.0,935.4 L825.5,932.8 L825.9,930.2 L826.4,927.6 L826.8,925.1 L827.3,922.6 L827.7,920.1 L828.1,917.6 L828.5,915.1 L828.9,912.6 L829.3,910.1 L829.7,907.6 L830.1,905.2 L830.5,902.7 L830.9,900.2 L831.3,897.8 L831.7,895.3 L832.1,892.8 L832.5,890.4 L832.9,887.9 L833.3,885.5 L833.6,883.0 L834.0,880.5 L834.4,878.1 L834.8,875.6 L835.2,873.2 L835.6,870.7 L836.0,868.2 L836.4,865.8 L836.7,863.3 L837.1,860.8 L837.5,858.4 L837.9,855.9 L838.3,853.5 L838.7,851.0 L839.1,848.5 L839.5,846.1 L839.9,843.6 L840.3,841.2 L840.7,838.7 L841.1,836.2 L841.5,833.8 L841.8,831.3 L842.2,828.8 L842.6,826.4 L843.0,823.9 L843.4,821.4 L843.8,819.0 L844.2,816.5 L844.6,814.0 L845.0,811.6 L845.4,809.1 L845.8,806.6 L846.2,804.2 L846.6,801.7 L847.0,799.2 L847.4,796.8 L847.8,794.3 L848.2,791.8 L848.6,789.4 L849.0,786.9 L849.4,784.4 L849.8,781.9 L850.2,779.5 L850.6,777.0 L851.0,774.5 L851.4,772.1 L851.7,769.6 L852.1,767.1 L852.5,764.6 L852.9,762.2 L853.3,759.7 L853.7,757.2 L854.0,754.8 L854.4,752.3 L854.8,749.8 L855.1,747.3 L855.5,744.9 L855.8,742.4 L856.2,739.9 L856.5,737.4 L856.9,735.0 L857.2,732.5 L857.5,730.0 L857.8,727.5 L858.1,725.0 L858.4,722.5 L858.7,720.1 L859.0,717.6 L859.3,715.1 L859.6,712.6 L859.8,710.1 L860.1,707.6 L860.4,705.1 L860.6,702.7 L860.9,700.2 L861.2,697.7 L861.5,695.2 L861.8,692.7 L862.1,690.2 L862.4,687.8 L862.7,685.3 L863.0,682.8 L863.4,680.3 L863.7,677.9 L864.1,675.4 L864.5,672.9 L864.9,670.5 L865.3,668.0 L865.7,665.5 L866.2,663.1 L866.6,660.6 L867.1,658.2 L867.7,655.8 L868.2,653.3 L868.7,650.9 L869.3,648.5 L869.9,646.0 L870.5,643.6 L871.1,641.2 L871.7,638.8 L872.3,636.3 L873.0,633.9 L873.6,631.5 L874.2,629.1 L874.8,626.7 L875.5,624.2 L876.1,621.8 L876.7,619.4 L877.4,617.0 L878.0,614.5 L878.6,612.1 L879.2,609.7 L879.8,607.3 L880.4,604.8 L881.0,602.4 L881.6,600.0 L882.1,597.5 L882.7,595.1 L883.3,592.7 L883.8,590.2 L884.4,587.8 L884.9,585.4 L885.4,582.9 L885.9,580.5 L886.5,578.0 L887.0,575.6 L887.5,573.1 L887.9,570.7 L888.4,568.2 L888.9,565.8 L889.4,563.3 L889.8,560.8 L890.3,558.4 L890.8,555.9 L891.2,553.5 L891.7,551.0 L892.1,548.5 L892.5,546.1 L893.0,543.6 L893.4,541.2 L893.8,538.7 L894.3,536.2 L894.7,533.8 L895.1,531.3 L895.6,528.8 L896.0,526.4 L896.4,523.9 L896.8,521.5 L897.3,519.0 L897.7,516.5 L898.2,514.1 L898.6,511.6 L899.1,509.2 L899.5,506.7 L900.0,504.3 L900.5,501.8 L901.0,499.4 L901.5,496.9 L902.0,494.5 L902.6,492.1 L903.1,489.6 L903.6,487.2 L904.2,484.7 L904.7,482.3 L905.3,479.9 L905.8,477.4 L906.4,475.0 L906.9,472.6 L907.5,470.1 L908.1,467.7 L908.6,465.3 L909.2,462.8 L909.8,460.4 L910.3,458.0 L910.9,455.5 L911.5,453.1 L912.1,450.7 L912.7,448.2 L913.3,445.8 L913.9,443.4 L914.5,440.9 L915.2,438.5 L915.8,436.0 L916.4,433.6 L917.1,431.1 L917.8,428.6 L918.4,426.1 L919.1,423.7 L919.8,421.2 L920.6,418.7 L921.3,416.2 L922.1,413.7 L922.9,411.2 L923.8,408.8 L924.7,406.3 L925.6,403.8 L926.6,401.4 L927.6,399.0 L928.7,396.5 L929.8,394.2 L931.1,391.9 L932.4,389.6 L933.7,387.4 L935.2,385.3 L936.7,383.3 L938.4,381.4 L940.1,379.6 L941.9,377.9 L943.8,376.4 L945.7,375.1 L947.7,374.0 L949.8,373.1 L951.8,372.4 L953.9,372.1 L956.0,372.1 L958.0,372.4 L960.0,373.0 L961.9,373.9 L963.8,375.1 L965.6,376.4 L967.3,378.0 L968.9,379.7 L970.4,381.6 L971.9,383.6 L973.2,385.7 L974.5,387.9 L975.7,390.1 L976.9,392.4 L977.9,394.8 L978.9,397.2 L979.9,399.7 L980.8,402.2 L981.6,404.7 L982.4,407.3 L983.1,409.8 L983.9,412.4 L984.6,415.0 L985.2,417.6 L985.9,420.2 L986.5,422.8 L987.1,425.4 L987.7,428.0 L988.3,430.5 L988.9,433.1 L989.5,435.6 L990.1,438.1 L990.7,440.6 L991.3,443.1 L991.9,445.6 L992.4,448.1 L993.0,450.6 L993.6,453.0 L994.1,455.5 L994.7,458.0 L995.2,460.4 L995.7,462.8 L996.3,465.3 L996.8,467.7 L997.3,470.2 L997.8,472.6 L998.3,475.0 L998.8,477.5 L999.3,479.9 L999.8,482.3 L1000.3,484.8 L1000.8,487.2 L1001.3,489.6 L1001.8,492.1 L1002.3,494.5 L1002.8,497.0 L1003.2,499.4 L1003.7,501.8 L1004.2,504.3 L1004.6,506.7 L1005.1,509.2 L1005.6,511.6 L1006.0,514.1 L1006.5,516.6 L1006.9,519.0 L1007.4,521.5 L1007.8,523.9 L1008.3,526.4 L1008.7,528.8 L1009.1,531.3 L1009.6,533.8 L1010.0,536.2 L1010.4,538.7 L1010.9,541.2 L1011.3,543.6 L1011.7,546.1 L1012.2,548.6 L1012.6,551.0 L1013.0,553.5 L1013.5,556.0 L1013.9,558.4 L1014.3,560.9 L1014.7,563.4 L1015.2,565.8 L1015.6,568.3 L1016.0,570.7 L1016.5,573.2 L1016.9,575.7 L1017.3,578.1 L1017.8,580.6 L1018.2,583.1 L1018.7,585.5 L1019.1,588.0 L1019.6,590.4 L1020.1,592.9 L1020.5,595.4 L1021.0,597.8 L1021.5,600.3 L1022.0,602.7 L1022.5,605.2 L1023.0,607.6 L1023.5,610.1 L1024.0,612.5 L1024.5,614.9 L1025.1,617.4 L1025.6,619.8 L1026.2,622.2 L1026.7,624.7 L1027.3,627.1 L1027.9,629.5 L1028.5,631.9 L1029.1,634.4 L1029.7,636.8 L1030.2,639.2 L1030.8,641.6 L1031.4,644.0 L1032.0,646.4 L1032.6,648.9 L1033.2,651.3 L1033.8,653.7 L1034.3,656.1 L1034.9,658.5 L1035.4,660.9 L1035.9,663.4 L1036.4,665.8 L1036.9,668.2 L1037.4,670.6 L1037.8,673.1 L1038.3,675.5 L1038.8,678.0 L1039.2,680.4 L1039.7,682.9 L1040.1,685.4 L1040.5,687.9 L1041.0,690.4 L1041.4,692.9 L1041.9,695.4 L1042.4,697.9 L1042.8,700.5 L1043.3,703.0 L1043.8,705.6 L1044.3,708.2 L1044.8,710.8 L1045.3,713.5 L1045.9,716.1 L1046.5,718.8 L1047.1,721.5 L1047.7,724.2 L1048.3,726.9 L1049.0,729.7 L1049.7,732.4 L1050.4,735.2 L1051.2,737.9 L1052.0,740.6 L1052.8,743.3 L1053.7,745.9 L1054.7,748.5 L1055.7,751.0 L1056.8,753.3 L1057.9,755.6 L1059.1,757.8 L1060.4,759.8 L1061.8,761.7 L1063.2,763.5 L1064.8,765.1 L1066.4,766.5 L1068.0,767.6 L1069.7,768.4 L1071.4,768.9 L1073.1,768.9 L1074.8,768.6 L1076.4,767.9 L1078.1,766.8 L1079.7,765.4 L1081.2,763.8 L1082.7,761.9 L1084.1,759.9 L1085.5,757.8 L1086.8,755.6 L1088.0,753.3 L1089.2,751.0 L1090.4,748.6 L1091.5,746.1 L1092.5,743.6 L1093.5,741.0 L1094.5,738.5 L1095.4,735.9 L1096.3,733.3 L1097.2,730.7 L1098.1,728.1 L1099.0,725.5 L1099.8,722.9 L1100.7,720.4 L1101.5,717.8 L1102.4,715.3 L1103.2,712.8 L1104.1,710.3 L1104.9,707.9 L1105.7,705.4 L1106.6,703.0 L1107.4,700.5 L1108.3,698.1 L1109.2,695.7 L1110.1,693.2 L1111.0,690.8 L1111.9,688.4 L1112.8,685.9 L1113.7,683.5 L1114.7,681.1 L1115.7,678.7 L1116.7,676.2 L1117.8,673.8 L1118.9,671.4 L1120.0,669.0 L1121.1,666.6 L1122.3,664.2 L1123.6,661.8 L1124.8,659.4 L1126.2,657.1 L1127.6,654.8 L1129.0,652.5 L1130.5,650.3 L1132.0,648.2 L1133.6,646.2 L1135.3,644.2 L1137.0,642.4 L1138.9,640.8 L1140.7,639.3 L1142.6,638.0 L1144.6,636.9 L1146.5,636.1 L1148.5,635.6 L1150.4,635.5 L1152.4,635.7 L1154.2,636.3 L1156.1,637.3 L1157.8,638.5 L1159.6,639.9 L1161.2,641.6 L1162.8,643.5 L1164.3,645.5 L1165.8,647.6 L1167.1,649.8 L1168.4,652.1 L1169.6,654.5 L1170.7,656.9 L1171.8,659.4 L1172.8,661.9 L1173.8,664.4 L1174.7,667.0 L1175.6,669.5 L1176.4,672.1 L1177.2,674.7 L1178.0,677.2 L1178.7,679.8 L1179.4,682.3 L1180.1,684.9 L1180.7,687.4 L1181.4,689.9 L1182.0,692.4 L1182.6,694.9 L1183.2,697.4 L1183.8,699.9 L1184.3,702.4 L1184.8,704.9 L1185.4,707.4 L1185.9,709.9 L1186.4,712.4 L1186.9,714.9 L1187.5,717.3 L1188.0,719.8 L1188.5,722.3 L1189.0,724.8 L1189.5,727.2 L1189.9,729.7 L1190.4,732.1 L1190.9,734.6 L1191.4,737.0 L1191.9,739.5 L1192.4,741.9 L1192.8,744.4 L1193.3,746.8 L1193.8,749.3 L1194.3,751.7 L1194.7,754.1 L1195.2,756.6 L1195.7,759.0 L1196.1,761.4 L1196.6,763.8 L1197.1,766.3 L1197.5,768.7 L1198.0,771.1 L1198.5,773.5 L1199.0,775.9 L1199.4,778.3 L1199.9,780.7 L1200.4,783.2 L1200.8,785.6 L1201.3,788.0 L1201.8,790.4 L1202.3,792.8 L1202.7,795.2 L1203.2,797.7 L1203.7,800.1 L1204.2,802.6 L1204.6,805.0 L1205.1,807.5 L1205.6,809.9 L1206.0,812.4 L1206.5,814.9 L1207.0,817.4 L1207.5,819.9 L1207.9,822.5 L1208.4,825.0 L1208.9,827.6 L1209.3,830.1 L1209.8,832.7 L1210.3,835.3 L1210.7,838.0 L1211.2,840.6 L1211.6,843.3 L1212.1,846.0 L1212.6,848.6 L1213.1,851.3 L1213.5,854.0 L1214.1,856.7 L1214.6,859.4 L1215.1,862.2 L1215.7,864.9 L1216.3,867.5 L1216.9,870.2 L1217.6,872.9 L1218.3,875.6 L1219.0,878.2 L1219.8,880.8 L1220.6,883.4 L1221.5,886.0 L1222.4,888.5 L1223.4,891.0 L1224.4,893.2 L1225.4,895.3 L1226.6,897.1 L1227.7,898.7 L1229.0,899.9 L1230.3,900.6 L1231.7,901.0 L1233.1,900.8 L1234.6,900.3 L1236.1,899.3 L1237.6,898.0 L1239.1,896.5 L1240.5,894.7 L1241.9,892.7 L1243.2,890.6 L1244.5,888.4 L1245.7,886.1 L1246.8,883.7 L1247.9,881.2 L1248.9,878.6 L1249.9,876.0 L1250.8,873.3 L1251.7,870.6 L1252.6,867.9 L1253.4,865.2 L1254.2,862.5 L1255.0,859.8 L1255.7,857.2 L1256.5,854.5 L1257.2,851.9 L1257.8,849.3 L1258.5,846.7 L1259.1,844.1 L1259.7,841.6 L1260.3,839.0 L1260.9,836.5 L1261.5,833.9 L1262.0,831.4 L1262.6,828.9 L1263.1,826.4 L1263.7,823.9 L1264.2,821.4 L1264.7,819.0 L1265.2,816.5 L1265.7,814.0 L1266.2,811.6 L1266.7,809.1 L1267.2,806.6 L1267.7,804.2 L1268.2,801.7 L1268.6,799.3 L1269.1,796.9 L1269.6,794.4 L1270.1,792.0 L1270.6,789.5 L1271.0,787.1 L1271.5,784.7 L1272.0,782.2 L1272.5,779.8 L1272.9,777.4 L1273.4,774.9 L1273.9,772.5 L1274.4,770.1 L1274.9,767.6 L1275.4,765.2 L1275.8,762.7 L1276.3,760.3 L1276.8,757.8 L1277.3,755.4 L1277.8,753.0 L1278.3,750.5 L1278.8,748.1 L1279.3,745.6 L1279.8,743.2 L1280.3,740.7 L1280.8,738.3 L1281.2,735.8 L1281.7,733.4 L1282.2,730.9 L1282.7,728.5 L1283.2,726.0 L1283.6,723.5 L1284.1,721.1 L1284.6,718.6 L1285.1,716.2 L1285.5,713.7 L1286.0,711.3 L1286.4,708.8 L1286.9,706.3 L1287.3,703.9 L1287.8,701.4 L1288.2,698.9 L1288.6,696.5 L1289.1,694.0 L1289.5,691.6 L1289.9,689.1 L1290.4,686.6 L1290.8,684.2 L1291.2,681.7 L1291.6,679.2 L1292.0,676.8 L1292.4,674.3 L1292.9,671.8 L1293.3,669.4 L1293.7,666.9 L1294.1,664.4 L1294.5,662.0 L1294.9,659.5 L1295.3,657.0 L1295.7,654.6 L1296.1,652.1 L1296.5,649.6 L1296.9,647.2 L1297.4,644.7 L1297.8,642.2 L1298.2,639.8 L1298.6,637.3 L1299.0,634.8 L1299.4,632.4 L1299.8,629.9 L1300.2,627.4 L1300.7,625.0 L1301.1,622.5 L1301.5,620.1 L1301.9,617.6 L1302.4,615.1 L1302.8,612.7 L1303.2,610.2 L1303.7,607.7 L1304.1,605.3 L1304.5,602.8 L1305.0,600.4 L1305.4,597.9 L1305.9,595.4 L1306.3,593.0 L1306.8,590.5 L1307.3,588.1 L1307.7,585.6 L1308.2,583.2 L1308.7,580.7 L1309.2,578.2 L1309.7,575.8 L1310.1,573.3 L1310.6,570.9 L1311.1,568.4 L1311.6,566.0 L1312.1,563.5 L1312.6,561.1 L1313.1,558.6 L1313.6,556.2 L1314.1,553.7 L1314.6,551.3 L1315.1,548.8 L1315.6,546.4 L1316.1,543.9 L1316.6,541.5 L1317.2,539.1 L1317.7,536.6 L1318.2,534.2 L1318.7,531.7 L1319.2,529.3 L1319.7,526.8 L1320.3,524.4 L1320.8,521.9 L1321.3,519.5 L1321.8,517.1 L1322.4,514.6 L1322.9,512.2 L1323.4,509.7 L1323.9,507.3 L1324.5,504.8 L1325.0,502.4 L1325.5,500.0 L1326.1,497.5 L1326.6,495.1 L1327.1,492.7 L1327.7,490.2 L1328.2,487.8 L1328.7,485.4 L1329.3,482.9 L1329.8,480.5 L1330.4,478.1 L1330.9,475.6 L1331.5,473.2 L1332.0,470.8 L1332.6,468.4 L1333.1,465.9 L1333.7,463.5 L1334.2,461.1 L1334.8,458.6 L1335.4,456.2 L1336.0,453.7 L1336.5,451.3 L1337.1,448.8 L1337.7,446.4 L1338.4,443.9 L1339.0,441.5 L1339.6,439.0 L1340.2,436.5 L1340.9,434.0 L1341.6,431.5 L1342.2,429.0 L1342.9,426.5 L1343.6,424.0 L1344.3,421.5 L1345.1,419.0 L1345.8,416.4 L1346.6,413.9 L1347.4,411.4 L1348.3,408.9 L1349.2,406.4 L1350.1,404.0 L1351.1,401.5 L1352.1,399.1 L1353.2,396.7 L1354.3,394.3 L1355.5,391.9 L1356.8,389.6 L1358.1,387.3 L1359.4,385.1 L1360.9,383.0 L1362.4,380.9 L1363.9,379.0 L1365.6,377.2 L1367.3,375.6 L1369.1,374.1 L1371.0,372.9 L1372.9,371.8 L1374.9,370.9 L1377.0,370.4 L1379.0,370.1 L1381.1,370.1 L1383.1,370.4 L1385.1,371.0 L1387.1,371.9 L1389.1,373.0 L1390.9,374.3 L1392.7,375.9 L1394.4,377.5 L1396.0,379.3 L1397.5,381.3 L1398.9,383.3 L1400.2,385.5 L1401.5,387.7 L1402.7,390.0 L1403.8,392.4 L1404.9,394.8 L1405.9,397.3 L1406.8,399.8 L1407.7,402.4 L1408.6,404.9 L1409.5,407.4 L1410.3,409.9 L1411.0,412.5 L1411.8,415.0 L1412.5,417.5 L1413.2,420.0 L1413.9,422.6 L1414.5,425.1 L1415.2,427.6 L1415.8,430.1 L1416.4,432.6 L1417.0,435.1 L1417.6,437.6 L1418.1,440.1 L1418.7,442.6 L1419.3,445.1 L1419.8,447.6 L1420.4,450.0 L1421.0,452.5 L1421.5,455.0 L1422.1,457.4 L1422.7,459.9 L1423.3,462.3 L1423.8,464.8 L1424.4,467.2 L1425.0,469.6 L1425.6,472.1 L1426.2,474.5 L1426.8,476.9 L1427.4,479.3 L1428.0,481.8 L1428.6,484.2 L1429.1,486.6 L1429.7,489.0 L1430.3,491.4 L1430.9,493.9 L1431.5,496.3 L1432.1,498.7 L1432.7,501.1 L1433.3,503.5 L1433.9,506.0 L1434.5,508.4 L1435.1,510.8 L1435.7,513.2 L1436.3,515.6 L1436.9,518.1 L1437.5,520.5 L1438.1,522.9 L1438.7,525.3 L1439.3,527.8 L1439.9,530.2 L1440.5,532.6 L1441.1,535.0 L1441.7,537.5 L1442.3,539.9 L1443.0,542.3 L1443.6,544.7 L1444.2,547.2 L1444.8,549.6 L1445.4,552.0 L1446.0,554.4 L1446.6,556.9 L1447.2,559.3 L1447.9,561.7 L1448.5,564.1 L1449.1,566.6 L1449.8,569.0 L1450.4,571.4 L1451.1,573.8 L1451.7,576.3 L1452.4,578.7 L1453.1,581.1 L1453.8,583.5 L1454.5,585.9 L1455.2,588.3 L1455.9,590.7 L1456.7,593.1 L1457.4,595.5 L1458.2,597.9 L1459.0,600.3 L1459.8,602.7 L1460.6,605.0 L1461.5,607.4 L1462.3,609.7 L1463.2,612.1 L1464.2,614.4 L1465.1,616.7 L1466.1,619.0 L1467.1,621.3 L1468.2,623.6 L1469.3,625.8 L1470.4,628.1 L1471.6,630.3 L1472.8,632.4 L1474.1,634.6 L1475.4,636.7 L1476.7,638.8 L1478.1,640.9 L1479.6,643.0 L1481.0,645.0 L1482.6,646.9 L1484.1,648.9 L1485.8,650.8 L1487.4,652.6 L1489.1,654.4 L1490.9,656.2 L1492.7,657.9 L1494.6,659.6 L1496.5,661.2 L1498.4,662.8 L1500.4,664.3 L1502.4,665.7 L1504.5,667.1 L1506.5,668.5 L1508.6,669.9 L1510.8,671.2 L1512.9,672.5 L1515.0,673.9 L1517.1,675.2 L1519.2,676.6 L1521.3,677.9 L1523.3,679.4 L1525.4,680.8 L1527.4,682.3 L1529.3,683.8 L1531.3,685.4 L1533.2,687.0 L1535.0,688.7 L1536.8,690.4 L1538.6,692.1 L1540.4,693.9 L1542.1,695.7 L1543.8,697.6 L1545.4,699.5 L1547.1,701.5 L1548.7,703.4 L1550.4,705.4 L1552.0,707.4 L1553.7,709.4 L1555.4,711.4 L1557.1,713.4 L1558.8,715.5 L1560.5,717.5 L1562.3,719.5 L1564.1,721.4 L1565.9,723.3 L1567.8,725.2 L1569.7,727.0 L1571.7,728.8 L1573.6,730.5 L1575.7,732.1 L1577.8,733.6 L1579.9,735.0 L1582.0,736.2 L1584.1,737.2 L1586.3,738.1 L1588.5,738.6 L1590.6,739.0 L1592.8,739.0 L1594.9,738.7 L1597.0,738.2 L1599.1,737.3 L1601.1,736.2 L1603.1,734.9 L1605.1,733.5 L1606.9,731.8 L1608.7,730.0 L1610.5,728.2 L1612.1,726.2 L1613.7,724.1 L1615.2,722.0 L1616.6,719.9 L1618.0,717.7 L1619.3,715.4 L1620.6,713.1 L1621.8,710.8 L1623.0,708.5 L1624.2,706.2 L1625.3,703.8 L1626.3,701.4 L1627.4,699.1 L1628.4,696.7 L1629.4,694.3 L1630.4,691.9 L1631.4,689.5 L1632.4,687.1 L1633.3,684.8 L1634.3,682.4 L1635.2,680.0 L1636.1,677.7 L1637.1,675.3 L1638.0,673.0 L1638.8,670.6 L1639.7,668.3 L1640.6,665.9 L1641.4,663.5 L1642.2,661.2 L1643.0,658.8 L1643.7,656.4 L1644.5,654.0 L1645.2,651.7 L1645.9,649.3 L1646.6,646.9 L1647.2,644.5 L1647.9,642.1 L1648.5,639.7 L1649.1,637.3 L1649.7,634.8 L1650.3,632.4 L1650.9,630.0 L1651.5,627.6 L1652.0,625.2 L1652.6,622.7 L1653.1,620.3 L1653.7,617.9 L1654.2,615.4 L1654.7,613.0 L1655.2,610.6 L1655.8,608.1 L1656.3,605.7 L1656.8,603.3 L1657.3,600.8 L1657.9,598.4 L1658.4,595.9 L1658.9,593.5 L1659.5,591.0 L1660.1,588.5 L1660.6,586.1 L1661.2,583.6 L1661.8,581.1 L1662.4,578.6 L1663.1,576.1 L1663.7,573.6 L1664.4,571.0 L1665.1,568.5 L1665.9,566.0 L1666.6,563.4 L1667.4,560.8 L1668.2,558.2 L1669.1,555.6 L1669.9,553.1 L1670.9,550.5 L1671.8,547.9 L1672.9,545.4 L1673.9,542.8 L1675.0,540.3 L1676.2,537.9 L1677.4,535.5 L1678.7,533.1 L1680.1,530.9 L1681.5,528.6 L1683.0,526.5 L1684.6,524.5 L1686.2,522.6 L1687.9,520.9 L1689.6,519.5 L1691.3,518.4 L1693.0,517.6 L1694.8,517.1 L1696.5,517.1 L1698.3,517.4 L1700.0,518.1 L1701.7,519.2 L1703.3,520.6 L1704.9,522.2 L1706.4,524.0 L1707.8,525.9 L1709.2,528.0 L1710.4,530.2 L1711.6,532.5 L1712.7,534.9 L1713.7,537.3 L1714.6,539.8 L1715.5,542.4 L1716.4,545.0 L1717.1,547.6 L1717.9,550.3 L1718.6,553.0 L1719.2,555.6 L1719.9,558.3 L1720.5,561.0 L1721.1,563.7 L1721.7,566.3 L1722.2,569.0 L1722.8,571.6 L1723.3,574.2 L1723.9,576.8 L1724.4,579.3 L1724.9,581.9 L1725.5,584.4 L1726.0,586.9 L1726.5,589.4 L1727.0,591.9 L1727.5,594.4 L1728.0,596.9 L1728.4,599.4 L1728.9,601.8 L1729.4,604.3 L1729.9,606.8 L1730.4,609.2 L1730.9,611.7 L1731.4,614.1 L1731.8,616.6 L1732.3,619.0 L1732.8,621.5 L1733.3,623.9 L1733.8,626.4 L1734.3,628.8 L1734.8,631.2 L1735.3,633.7 L1735.7,636.1 L1736.2,638.6 L1736.7,641.0 L1737.2,643.5 L1737.6,645.9 L1738.1,648.3 L1738.6,650.8 L1739.0,653.2 L1739.5,655.7 L1739.9,658.1 L1740.4,660.6 L1740.8,663.0 L1741.3,665.5 L1741.7,668.0 L1742.1,670.4 L1742.6,672.9 L1743.0,675.3 L1743.4,677.8 L1743.9,680.3 L1744.3,682.7 L1744.8,685.2 L1745.2,687.6 L1745.7,690.1 L1746.1,692.5 L1746.6,695.0 L1747.0,697.5 L1747.5,699.9 L1748.0,702.4 L1748.5,704.8 L1749.0,707.3 L1749.5,709.7 L1750.0,712.2 L1750.5,714.6 L1751.1,717.1 L1751.6,719.5 L1752.2,722.0 L1752.7,724.4 L1753.3,726.8 L1753.9,729.3 L1754.5,731.7 L1755.1,734.1 L1755.7,736.6 L1756.4,739.0 L1757.0,741.4 L1757.7,743.8 L1758.4,746.3 L1759.1,748.7 L1759.8,751.1 L1760.5,753.5 L1761.3,755.9 L1762.1,758.3 L1762.8,760.7 L1763.6,763.1 L1764.5,765.5 L1765.3,767.9 L1766.2,770.2 L1767.1,772.6 L1768.0,774.9 L1769.0,777.3 L1770.0,779.6 L1771.1,781.9 L1772.1,784.1 L1773.3,786.4 L1774.4,788.6 L1775.6,790.8 L1776.9,793.0 L1778.2,795.1 L1779.6,797.2 L1781.0,799.3 L1782.5,801.3 L1784.0,803.3 L1785.6,805.3 L1787.2,807.1 L1788.9,808.9 L1790.7,810.7 L1792.5,812.4 L1794.4,814.0 L1796.3,815.5 L1798.3,816.9 L1800.4,818.3 L1802.5,819.5 L1804.7,820.8 L1806.8,822.0 L1809.1,823.1 L1811.3,824.3 L1813.5,825.4 L1815.8,826.6 L1818.0,827.8 L1820.2,829.0 L1822.4,830.3 L1824.6,831.6 L1826.7,832.9 L1828.8,834.3 L1830.9,835.8 L1833.0,837.2 L1835.2,838.6 L1837.3,840.0 L1839.4,841.4 L1841.6,842.7 L1843.7,843.9 L1846.0,845.1 L1848.2,846.3 L1850.5,847.3 L1852.8,848.2 L1855.1,849.1 L1857.5,849.8 L1859.9,850.4 L1862.3,850.9 L1864.7,851.3 L1867.1,851.5 L1869.5,851.6 L1872.0,851.5 L1874.4,851.2 L1876.8,850.8 L1879.1,850.2 L1881.5,849.5 L1883.8,848.7 L1886.1,847.7 L1888.3,846.7 L1890.5,845.5 L1892.6,844.2 L1894.7,842.9 L1896.8,841.4 L1898.7,839.9 L1900.7,838.3 L1902.5,836.6 L1904.4,834.9 L1906.1,833.1 L1907.8,831.3 L1909.5,829.4 L1911.1,827.4 L1912.7,825.4 L1914.2,823.4 L1915.7,821.4 L1917.2,819.3 L1918.6,817.3 L1920.1,815.2 L1921.5,813.1 L1922.9,811.0 L1924.4,808.9 L1925.8,806.8 L1927.3,804.8 L1928.8,802.7 L1930.3,800.7 L1931.8,798.6 L1933.3,796.6 L1934.9,794.7 L1936.4,792.7 L1938.0,790.8 L1939.7,788.9 L1941.3,787.0 L1943.0,785.2 L1944.8,783.4 L1946.5,781.6 L1948.3,779.9 L1950.2,778.2 L1952.1,776.6 L1954.0,775.0 L1956.0,773.5 L1958.0,772.0 L1960.0,770.6 L1962.1,769.3 L1964.2,768.0 L1966.4,766.7 L1968.6,765.6 L1970.8,764.5 L1973.1,763.4 L1975.4,762.5 L1977.7,761.5 L1980.0,760.7 L1982.4,759.9 L1984.8,759.1 L1987.2,758.5 L1989.7,757.8 L1992.1,757.3 L1994.6,756.8 L1997.0,756.4 L1999.5,756.0 L2002.0,755.8 L2004.5,755.6 L2006.9,755.5 L2009.4,755.5 L2011.9,755.5 L2014.4,755.7 L2016.9,755.9 L2019.3,756.2 L2021.8,756.6 L2024.2,757.0 L2026.7,757.5 L2029.1,758.1 L2031.5,758.7 L2033.9,759.3 L2036.4,760.0 L2038.8,760.8 L2041.1,761.5 L2043.5,762.3 L2045.9,763.1 L2048.3,764.0 L2050.6,764.8 L2053.0,765.7 L2055.4,766.6 L2057.7,767.5 L2060.1,768.3 L2060.5,768.5"/>
<path stroke="#ffc90e" d="M288.5,52.5 L289.7,54.7 L291.0,56.8 L292.2,59.0 L293.5,61.2 L294.7,63.4 L295.9,65.5 L297.2,67.7 L298.4,69.9 L299.6,72.1 L300.8,74.3 L302.0,76.5 L303.1,78.7 L304.3,80.9 L305.4,83.1 L306.5,85.4 L307.5,87.6 L308.5,89.9 L309.5,92.2 L310.5,94.5 L311.4,96.8 L312.3,99.1 L313.2,101.4 L314.0,103.8 L314.9,106.1 L315.7,108.5 L316.4,110.9 L317.2,113.3 L317.9,115.6 L318.6,118.0 L319.3,120.4 L320.0,122.8 L320.7,125.2 L321.3,127.7 L322.0,130.1 L322.6,132.5 L323.2,134.9 L323.7,137.4 L324.3,139.8 L324.9,142.2 L325.4,144.7 L325.9,147.1 L326.4,149.6 L326.9,152.0 L327.4,154.5 L327.8,156.9 L328.3,159.4 L328.7,161.9 L329.2,164.3 L329.6,166.8 L330.0,169.3 L330.4,171.7 L330.8,174.2 L331.2,176.7 L331.6,179.2 L332.0,181.6 L332.3,184.1 L332.7,186.6 L333.0,189.1 L333.4,191.5 L333.8,194.0 L334.1,196.5 L334.5,199.0 L334.8,201.5 L335.1,203.9 L335.5,206.4 L335.8,208.9 L336.2,211.4 L336.5,213.9 L336.8,216.3 L337.2,218.8 L337.5,221.3 L337.8,223.8 L338.1,226.3 L338.5,228.7 L338.8,231.2 L339.1,233.7 L339.4,236.2 L339.8,238.7 L340.1,241.1 L340.4,243.6 L340.7,246.1 L341.0,248.6 L341.3,251.1 L341.6,253.6 L341.9,256.0 L342.2,258.5 L342.5,261.0 L342.8,263.5 L343.1,266.0 L343.4,268.4 L343.7,270.9 L344.0,273.4 L344.3,275.9 L344.6,278.4 L344.9,280.9 L345.1,283.3 L345.4,285.8 L345.7,288.3 L346.0,290.8 L346.3,293.3 L346.5,295.8 L346.8,298.2 L347.1,300.7 L347.3,303.2 L347.6,305.7 L347.9,308.2 L348.1,310.7 L348.4,313.1 L348.6,315.6 L348.9,318.1 L349.1,320.6 L349.4,323.1 L349.6,325.6 L349.9,328.1 L350.1,330.6 L350.4,333.0 L350.6,335.5 L350.9,338.0 L351.1,340.5 L351.3,343.0 L351.6,345.5 L351.8,348.0 L352.1,350.5 L352.3,353.0 L352.5,355.4 L352.8,357.9 L353.0,360.4 L353.2,362.9 L353.4,365.4 L353.7,367.9 L353.9,370.4 L354.1,372.9 L354.4,375.4 L354.6,377.9 L354.8,380.3 L355.0,382.8 L355.3,385.3 L355.5,387.8 L355.7,390.3 L355.9,392.8 L356.2,395.3 L356.4,397.8 L356.6,400.3 L356.8,402.8 L357.0,405.2 L357.3,407.7 L357.5,410.2 L357.7,412.7 L357.9,415.2 L358.2,417.7 L358.4,420.2 L358.6,422.7 L358.8,425.2 L359.1,427.7 L359.3,430.1 L359.5,432.6 L359.7,435.1 L360.0,437.6 L360.2,440.1 L360.4,442.6 L360.6,445.1 L360.9,447.6 L361.1,450.1 L361.3,452.5 L361.5,455.0 L361.8,457.5 L362.0,460.0 L362.2,462.5 L362.4,465.0 L362.7,467.5 L362.9,470.0 L363.1,472.5 L363.3,475.0 L363.6,477.4 L363.8,479.9 L364.0,482.4 L364.2,484.9 L364.5,487.4 L364.7,489.9 L364.9,492.4 L365.1,494.9 L365.3,497.4 L365.6,499.9 L365.8,502.3 L366.0,504.8 L366.2,507.3 L366.4,509.8 L366.7,512.3 L366.9,514.8 L367.1,517.3 L367.3,519.8 L367.5,522.3 L367.7,524.8 L368.0,527.3 L368.2,529.8 L368.4,532.3 L368.6,534.7 L368.8,537.2 L369.0,539.7 L369.3,542.2 L369.5,544.7 L369.7,547.2 L369.9,549.7 L370.1,552.2 L370.3,554.7 L370.5,557.2 L370.8,559.7 L371.0,562.2 L371.2,564.7 L371.4,567.1 L371.6,569.6 L371.9,572.1 L372.1,574.6 L372.3,577.1 L372.5,579.6 L372.8,582.1 L373.0,584.6 L373.2,587.1 L373.5,589.5 L373.7,592.0 L373.9,594.5 L374.2,597.0 L374.4,599.5 L374.6,602.0 L374.9,604.5 L375.1,606.9 L375.4,609.4 L375.6,611.9 L375.9,614.4 L376.1,616.9 L376.4,619.4 L376.6,621.8 L376.9,624.3 L377.2,626.8 L377.4,629.3 L377.7,631.8 L377.9,634.2 L378.2,636.7 L378.5,639.2 L378.8,641.7 L379.0,644.1 L379.3,646.6 L379.6,649.1 L379.9,651.6 L380.1,654.0 L380.4,656.5 L380.7,659.0 L381.0,661.5 L381.3,664.0 L381.5,666.4 L381.8,668.9 L382.1,671.4 L382.4,673.9 L382.7,676.4 L382.9,678.8 L383.2,681.3 L383.5,683.8 L383.8,686.3 L384.1,688.8 L384.3,691.3 L384.6,693.7 L384.9,696.2 L385.2,698.7 L385.5,701.2 L385.7,703.7 L386.0,706.2 L386.3,708.8 L386.7,711.3 L387.0,713.8 L387.3,716.4 L387.6,718.9 L388.0,721.5 L388.4,724.1 L388.7,726.7 L389.1,729.3 L389.6,731.9 L390.0,734.5 L390.5,737.2 L390.9,739.9 L391.4,742.6 L392.0,745.3 L392.5,748.1 L393.1,750.8 L393.7,753.6 L394.3,756.4 L395.0,759.3 L395.7,762.1 L396.4,765.0 L397.2,767.8 L397.9,770.6 L398.8,773.3 L399.7,775.9 L400.6,778.4 L401.5,780.7 L402.6,782.9 L403.6,785.0 L404.7,786.8 L405.9,788.4 L407.1,789.8 L408.3,790.9 L409.6,791.6 L410.9,791.9 L412.2,791.7 L413.5,791.0 L414.8,789.9 L416.1,788.5 L417.3,786.9 L418.5,785.0 L419.7,783.0 L420.8,780.8 L421.8,778.5 L422.8,776.1 L423.8,773.6 L424.7,771.0 L425.6,768.3 L426.4,765.6 L427.2,762.8 L428.0,760.0 L428.7,757.2 L429.5,754.4 L430.1,751.7 L430.8,748.9 L431.4,746.2 L432.1,743.5 L432.7,740.8 L433.2,738.2 L433.8,735.6 L434.3,733.0 L434.8,730.4 L435.3,727.8 L435.8,725.2 L436.3,722.7 L436.8,720.1 L437.2,717.6 L437.7,715.1 L438.1,712.6 L438.5,710.1 L439.0,707.6 L439.4,705.1 L439.8,702.6 L440.2,700.1 L440.6,697.6 L441.0,695.2 L441.4,692.7 L441.8,690.2 L442.2,687.7 L442.6,685.3 L443.0,682.8 L443.4,680.4 L443.8,677.9 L444.1,675.4 L444.5,673.0 L444.9,670.5 L445.3,668.1 L445.7,665.6 L446.1,663.1 L446.4,660.7 L446.8,658.2 L447.2,655.8 L447.6,653.3 L448.0,650.9 L448.4,648.4 L448.7,645.9 L449.1,643.5 L449.5,641.0 L449.9,638.6 L450.3,636.1 L450.7,633.6 L451.1,631.2 L451.4,628.7 L451.8,626.3 L452.2,623.8 L452.6,621.3 L453.0,618.9 L453.4,616.4 L453.8,613.9 L454.2,611.5 L454.6,609.0 L455.0,606.5 L455.4,604.1 L455.8,601.6 L456.3,599.1 L456.7,596.7 L457.1,594.2 L457.5,591.7 L457.9,589.3 L458.3,586.8 L458.8,584.3 L459.2,581.9 L459.6,579.4 L460.0,576.9 L460.5,574.5 L460.9,572.0 L461.4,569.6 L461.8,567.1 L462.2,564.6 L462.7,562.2 L463.1,559.7 L463.6,557.2 L464.0,554.8 L464.5,552.3 L465.0,549.9 L465.4,547.4 L465.9,545.0 L466.4,542.5 L466.9,540.0 L467.3,537.6 L467.8,535.1 L468.3,532.7 L468.8,530.2 L469.3,527.8 L469.8,525.3 L470.3,522.9 L470.8,520.4 L471.4,518.0 L471.9,515.6 L472.4,513.1 L472.9,510.7 L473.5,508.2 L474.0,505.8 L474.6,503.4 L475.1,500.9 L475.7,498.5 L476.3,496.0 L476.9,493.6 L477.4,491.2 L478.0,488.7 L478.6,486.3 L479.2,483.9 L479.8,481.5 L480.4,479.0 L481.0,476.6 L481.6,474.2 L482.2,471.8 L482.8,469.3 L483.5,466.9 L484.1,464.5 L484.7,462.1 L485.3,459.7 L486.0,457.2 L486.6,454.8 L487.2,452.4 L487.9,450.0 L488.5,447.6 L489.1,445.1 L489.8,442.7 L490.4,440.3 L491.1,437.9 L491.7,435.5 L492.4,433.1 L493.0,430.7 L493.7,428.2 L494.3,425.8 L495.0,423.4 L495.7,421.0 L496.3,418.6 L497.0,416.2 L497.7,413.8 L498.4,411.4 L499.1,409.0 L499.8,406.6 L500.4,404.2 L501.1,401.8 L501.8,399.4 L502.5,397.0 L503.2,394.6 L503.9,392.3 L504.6,389.9 L505.3,387.5 L506.0,385.1 L506.7,382.7 L507.4,380.3 L508.1,377.9 L508.8,375.5 L509.5,373.1 L510.2,370.8 L510.9,368.4 L511.6,366.0 L512.3,363.6 L513.0,361.2 L513.7,358.8 L514.4,356.4 L515.1,354.0 L515.8,351.6 L516.5,349.1 L517.2,346.7 L517.9,344.3 L518.7,341.8 L519.4,339.3 L520.2,336.9 L520.9,334.4 L521.7,331.9 L522.5,329.3 L523.3,326.8 L524.1,324.2 L524.9,321.7 L525.7,319.1 L526.6,316.5 L527.5,313.9 L528.4,311.3 L529.3,308.7 L530.3,306.2 L531.3,303.6 L532.3,301.1 L533.4,298.6 L534.5,296.1 L535.6,293.7 L536.9,291.4 L538.1,289.0 L539.5,286.8 L540.8,284.6 L542.3,282.5 L543.8,280.4 L545.4,278.5 L547.0,276.7 L548.7,275.0 L550.4,273.6 L552.1,272.5 L553.9,271.6 L555.6,271.2 L557.4,271.1 L559.2,271.4 L560.9,272.1 L562.7,273.1 L564.3,274.3 L565.9,275.9 L567.5,277.6 L568.9,279.4 L570.3,281.5 L571.6,283.6 L572.9,285.9 L574.1,288.3 L575.2,290.7 L576.3,293.2 L577.3,295.8 L578.2,298.3 L579.1,300.9 L579.9,303.5 L580.7,306.0 L581.4,308.6 L582.1,311.2 L582.7,313.8 L583.3,316.4 L583.9,319.0 L584.4,321.6 L584.9,324.2 L585.4,326.8 L585.8,329.4 L586.2,332.0 L586.6,334.6 L587.0,337.2 L587.4,339.8 L587.7,342.3 L588.1,344.9 L588.5,347.5 L588.8,350.0 L589.2,352.6 L589.5,355.1 L589.9,357.7 L590.2,360.2 L590.6,362.7 L590.9,365.2 L591.3,367.7 L591.7,370.2 L592.1,372.7 L592.4,375.2 L592.8,377.7 L593.2,380.1 L593.6,382.6 L593.9,385.1 L594.3,387.5 L594.7,390.0 L595.1,392.4 L595.5,394.9 L595.9,397.3 L596.3,399.7 L596.7,402.2 L597.1,404.6 L597.5,407.0 L597.9,409.5 L598.3,411.9 L598.8,414.3 L599.2,416.8 L599.6,419.2 L600.0,421.6 L600.5,424.0 L600.9,426.5 L601.3,428.9 L601.8,431.3 L602.2,433.8 L602.7,436.2 L603.1,438.7 L603.6,441.1 L604.0,443.6 L604.5,446.1 L604.9,448.6 L605.4,451.1 L605.8,453.6 L606.3,456.1 L606.7,458.6 L607.2,461.1 L607.6,463.7 L608.1,466.2 L608.6,468.8 L609.0,471.4 L609.5,474.0 L609.9,476.6 L610.4,479.3 L610.9,481.9 L611.4,484.5 L611.9,487.2 L612.4,489.9 L613.0,492.5 L613.6,495.2 L614.2,497.9 L614.8,500.5 L615.5,503.2 L616.1,505.9 L616.9,508.6 L617.6,511.2 L618.4,513.9 L619.3,516.6 L620.1,519.2 L621.1,521.9 L622.0,524.5 L623.0,527.1 L624.1,529.5 L625.2,531.8 L626.3,533.8 L627.4,535.6 L628.6,537.0 L629.7,538.1 L630.9,538.8 L632.1,539.0 L633.3,538.7 L634.5,538.0 L635.7,536.9 L636.9,535.4 L638.0,533.6 L639.1,531.5 L640.2,529.3 L641.3,526.8 L642.3,524.3 L643.3,521.6 L644.2,519.0 L645.1,516.3 L645.9,513.6 L646.7,511.0 L647.4,508.3 L648.1,505.6 L648.7,502.9 L649.4,500.2 L649.9,497.5 L650.5,494.9 L651.0,492.2 L651.4,489.5 L651.9,486.8 L652.3,484.2 L652.7,481.5 L653.1,478.9 L653.5,476.2 L653.9,473.6 L654.2,471.0 L654.6,468.4 L654.9,465.8 L655.3,463.3 L655.6,460.7 L656.0,458.2 L656.3,455.6 L656.6,453.1 L657.0,450.6 L657.3,448.1 L657.7,445.6 L658.0,443.1 L658.3,440.7 L658.7,438.2 L659.0,435.7 L659.3,433.2 L659.7,430.7 L660.0,428.3 L660.4,425.8 L660.7,423.3 L661.1,420.8 L661.4,418.3 L661.8,415.8 L662.1,413.3 L662.5,410.7 L662.9,408.2 L663.3,405.6 L663.7,403.1 L664.1,400.5 L664.5,397.9 L664.9,395.4 L665.4,392.8 L665.8,390.2 L666.3,387.6 L666.8,384.9 L667.3,382.3 L667.9,379.7 L668.5,377.0 L669.1,374.4 L669.7,371.7 L670.4,369.1 L671.1,366.4 L671.8,363.7 L672.6,361.1 L673.4,358.4 L674.2,355.7 L675.1,353.0 L676.1,350.3 L677.0,347.7 L678.0,345.2 L679.1,342.7 L680.2,340.4 L681.3,338.2 L682.5,336.2 L683.8,334.4 L685.0,332.9 L686.3,331.6 L687.7,330.7 L689.0,330.2 L690.2,330.1 L691.5,330.6 L692.6,331.5 L693.8,332.8 L694.8,334.5 L695.8,336.4 L696.8,338.6 L697.6,340.9 L698.4,343.3 L699.2,345.8 L699.9,348.4 L700.5,351.0 L701.0,353.7 L701.6,356.5 L702.0,359.3 L702.5,362.1 L702.9,365.0 L703.3,367.8 L703.6,370.6 L703.9,373.5 L704.2,376.2 L704.5,379.0 L704.8,381.7 L705.0,384.4 L705.2,387.1 L705.4,389.8 L705.6,392.4 L705.8,395.1 L706.0,397.7 L706.2,400.3 L706.4,402.8 L706.6,405.4 L706.7,407.9 L706.9,410.5 L707.1,413.0 L707.3,415.5 L707.4,418.1 L707.6,420.6 L707.8,423.1 L708.0,425.6 L708.2,428.1 L708.4,430.6 L708.7,433.1 L708.9,435.6 L709.1,438.1 L709.3,440.6 L709.6,443.1 L709.8,445.5 L710.0,448.0 L710.3,450.5 L710.5,453.0 L710.8,455.5 L711.0,457.9 L711.3,460.4 L711.5,462.9 L711.8,465.3 L712.0,467.8 L712.3,470.3 L712.5,472.7 L712.8,475.2 L713.1,477.7 L713.3,480.1 L713.6,482.6 L713.8,485.1 L714.1,487.6 L714.4,490.0 L714.6,492.5 L714.9,495.0 L715.1,497.4 L715.4,499.9 L715.6,502.4 L715.9,504.9 L716.1,507.4 L716.4,509.8 L716.7,512.3 L716.9,514.8 L717.2,517.3 L717.4,519.8 L717.7,522.3 L717.9,524.7 L718.2,527.2 L718.4,529.7 L718.7,532.2 L718.9,534.7 L719.2,537.2 L719.4,539.7 L719.6,542.2 L719.9,544.7 L720.1,547.2 L720.4,549.6 L720.6,552.1 L720.9,554.6 L721.1,557.1 L721.4,559.6 L721.6,562.1 L721.9,564.6 L722.1,567.1 L722.4,569.6 L722.6,572.1 L722.8,574.5 L723.1,577.0 L723.3,579.5 L723.6,582.0 L723.8,584.5 L724.1,587.0 L724.3,589.5 L724.6,592.0 L724.8,594.5 L725.1,596.9 L725.3,599.4 L725.6,601.9 L725.8,604.4 L726.1,606.9 L726.3,609.4 L726.6,611.9 L726.8,614.4 L727.1,616.8 L727.3,619.3 L727.6,621.8 L727.8,624.3 L728.1,626.8 L728.3,629.3 L728.6,631.8 L728.8,634.3 L729.1,636.7 L729.3,639.2 L729.6,641.7 L729.9,644.2 L730.1,646.7 L730.4,649.2 L730.6,651.7 L730.9,654.1 L731.2,656.6 L731.4,659.1 L731.7,661.6 L731.9,664.1 L732.2,666.6 L732.5,669.1 L732.7,671.6 L733.0,674.0 L733.2,676.5 L733.5,679.0 L733.7,681.5 L734.0,684.0 L734.2,686.5 L734.5,689.0 L734.7,691.5 L735.0,693.9 L735.2,696.4 L735.4,698.9 L735.7,701.4 L735.9,703.9 L736.1,706.4 L736.3,708.9 L736.6,711.4 L736.8,713.9 L737.0,716.3 L737.2,718.8 L737.4,721.3 L737.6,723.8 L737.8,726.3 L738.0,728.8 L738.2,731.3 L738.4,733.8 L738.6,736.3 L738.7,738.8 L738.9,741.3 L739.1,743.8 L739.3,746.3 L739.4,748.8 L739.6,751.2 L739.8,753.7 L739.9,756.2 L740.1,758.7 L740.2,761.2 L740.4,763.7 L740.5,766.2 L740.7,768.7 L740.8,771.2 L741.0,773.7 L741.1,776.2 L741.3,778.7 L741.4,781.2 L741.6,783.7 L741.7,786.2 L741.8,788.7 L742.0,791.2 L742.1,793.7 L742.2,796.2 L742.4,798.7 L742.5,801.2 L742.6,803.7 L742.7,806.2 L742.9,808.7 L743.0,811.2 L743.1,813.7 L743.3,816.1 L743.4,818.6 L743.5,821.1 L743.6,823.6 L743.8,826.1 L743.9,828.6 L744.0,831.1 L744.2,833.6 L744.3,836.1 L744.4,838.6 L744.5,841.1 L744.7,843.6 L744.8,846.1 L744.9,848.6 L745.0,851.1 L745.2,853.6 L745.3,856.1 L745.4,858.6 L745.6,861.1 L745.7,863.6 L745.8,866.1 L746.0,868.6 L746.1,871.1 L746.2,873.6 L746.3,876.1 L746.5,878.6 L746.6,881.1 L746.7,883.6 L746.9,886.1 L747.0,888.6 L747.1,891.1 L747.3,893.5 L747.4,896.0 L747.5,898.5 L747.7,901.0 L747.8,903.5 L747.9,906.0 L748.0,908.5 L748.2,911.0 L748.3,913.5 L748.4,916.0 L748.6,918.5 L748.7,921.0 L748.8,923.5 L749.0,926.0 L749.1,928.5 L749.2,931.0 L749.3,933.5 L749.5,936.0 L749.6,938.5 L749.7,941.0 L749.9,943.5 L750.0,946.0 L750.1,948.5 L750.3,951.0 L750.4,953.5 L750.5,956.0 L750.6,958.5 L750.8,961.0 L750.9,963.5 L751.1,966.0 L751.2,968.5 L751.3,970.9 L751.5,973.4 L751.6,975.9 L751.8,978.4 L751.9,980.9 L752.1,983.4 L752.2,985.9 L752.4,988.4 L752.5,990.9 L752.7,993.4 L752.9,995.9 L753.0,998.4 L753.2,1000.9 L753.4,1003.4 L753.6,1005.9 L753.8,1008.4 L753.9,1010.9 L754.1,1013.4 L754.3,1015.9 L754.5,1018.3 L754.8,1020.8 L755.0,1023.3 L755.2,1025.8 L755.4,1028.3 L755.6,1030.8 L755.9,1033.3 L756.1,1035.8 L756.4,1038.3 L756.6,1040.8 L756.9,1043.2 L757.1,1045.7 L757.4,1048.2 L757.6,1050.7 L757.9,1053.2 L758.2,1055.7 L758.5,1058.2 L758.7,1060.6 L759.0,1063.1 L759.3,1065.6 L759.6,1068.1 L759.9,1070.6 L760.2,1073.0 L760.5,1075.5 L760.7,1078.0 L761.0,1080.5 L761.3,1083.0 L761.6,1085.4 L761.9,1087.9 L762.2,1090.4 L762.5,1092.9 L762.8,1095.3 L763.1,1097.8 L763.4,1100.3 L763.7,1102.7 L764.0,1105.2 L764.3,1107.7 L764.6,1110.1 L764.9,1112.6 L765.1,1115.1 L765.4,1117.5 L765.7,1120.0 L766.0,1122.5 L766.3,1125.0 L766.6,1127.4 L766.9,1129.9 L767.3,1132.4 L767.6,1134.9 L767.9,1137.4 L768.3,1139.9 L768.6,1142.4 L769.0,1144.9 L769.4,1147.5 L769.8,1150.0 L770.2,1152.6 L770.6,1155.1 L771.1,1157.7 L771.6,1160.3 L772.1,1162.9 L772.6,1165.5 L773.1,1168.1 L773.7,1170.8 L774.2,1173.4 L774.8,1176.1 L775.5,1178.8 L776.1,1181.5 L776.8,1184.3 L777.5,1187.0 L778.3,1189.8 L779.1,1192.5 L779.9,1195.2 L780.8,1197.8 L781.7,1200.4 L782.7,1203.0 L783.7,1205.4 L784.7,1207.7 L785.9,1209.9 L787.1,1212.0 L788.4,1214.0 L789.7,1215.7 L791.1,1217.1 L792.5,1218.3 L793.9,1219.1 L795.4,1219.4 L796.9,1219.3 L798.4,1218.8 L799.9,1217.8 L801.4,1216.5 L802.8,1215.0 L804.2,1213.2 L805.5,1211.2 L806.8,1209.2 L808.0,1207.0 L809.1,1204.7 L810.2,1202.4 L811.2,1200.0 L812.1,1197.6 L813.0,1195.1 L813.8,1192.5 L814.6,1189.9 L815.3,1187.2 L816.0,1184.6 L816.6,1181.9 L817.2,1179.1 L817.7,1176.4 L818.3,1173.6 L818.8,1170.8 L819.2,1168.0 L819.7,1165.3 L820.1,1162.5 L820.6,1159.7 L821.0,1157.0 L821.4,1154.3 L821.8,1151.6 L822.2,1148.9 L822.6,1146.3 L823.0,1143.6 L823.4,1141.0 L823.7,1138.4 L824.1,1135.9 L824.5,1133.3 L824.8,1130.8 L825.2,1128.3 L825.5,1125.7 L825.9,1123.3 L826.2,1120.8 L826.6,1118.3 L826.9,1115.8 L827.2,1113.4 L827.5,1110.9 L827.9,1108.5 L828.2,1106.0 L828.5,1103.6 L828.8,1101.1 L829.1,1098.7 L829.4,1096.2 L829.7,1093.8 L830.0,1091.4 L830.3,1088.9 L830.6,1086.5 L830.9,1084.0 L831.2,1081.5 L831.5,1079.1 L831.8,1076.6 L832.0,1074.1 L832.3,1071.7 L832.6,1069.2 L832.9,1066.7 L833.2,1064.3 L833.4,1061.8 L833.7,1059.3 L834.0,1056.8 L834.3,1054.3 L834.6,1051.9 L834.9,1049.4 L835.1,1046.9 L835.4,1044.4 L835.7,1041.9 L836.0,1039.4 L836.3,1037.0 L836.6,1034.5 L836.9,1032.0 L837.2,1029.5 L837.5,1027.0 L837.8,1024.5 L838.2,1022.1 L838.5,1019.6 L838.8,1017.1 L839.1,1014.6 L839.4,1012.1 L839.7,1009.7 L840.1,1007.2 L840.4,1004.7 L840.7,1002.2 L841.0,999.7 L841.3,997.3 L841.7,994.8 L842.0,992.3 L842.3,989.8 L842.6,987.3 L843.0,984.9 L843.3,982.4 L843.6,979.9 L843.9,977.4 L844.3,974.9 L844.6,972.5 L844.9,970.0 L845.2,967.5 L845.5,965.0 L845.8,962.5 L846.2,960.1 L846.5,957.6 L846.8,955.1 L847.1,952.6 L847.4,950.1 L847.7,947.6 L848.0,945.2 L848.3,942.7 L848.6,940.2 L848.9,937.7 L849.2,935.2 L849.5,932.8 L849.8,930.3 L850.1,927.8 L850.3,925.3 L850.6,922.8 L850.9,920.3 L851.2,917.9 L851.5,915.4 L851.8,912.9 L852.0,910.4 L852.3,907.9 L852.6,905.4 L852.9,902.9 L853.2,900.5 L853.4,898.0 L853.7,895.5 L854.0,893.0 L854.2,890.5 L854.5,888.0 L854.8,885.5 L855.0,883.1 L855.3,880.6 L855.6,878.1 L855.8,875.6 L856.1,873.1 L856.4,870.6 L856.6,868.1 L856.9,865.7 L857.1,863.2 L857.4,860.7 L857.6,858.2 L857.9,855.7 L858.2,853.2 L858.4,850.7 L858.7,848.3 L858.9,845.8 L859.2,843.3 L859.4,840.8 L859.7,838.3 L859.9,835.8 L860.2,833.3 L860.4,830.8 L860.7,828.4 L860.9,825.9 L861.2,823.4 L861.4,820.9 L861.6,818.4 L861.9,815.9 L862.1,813.4 L862.4,810.9 L862.6,808.4 L862.9,806.0 L863.1,803.5 L863.4,801.0 L863.6,798.5 L863.8,796.0 L864.1,793.5 L864.3,791.0 L864.6,788.5 L864.8,786.1 L865.1,783.6 L865.3,781.1 L865.6,778.6 L865.8,776.1 L866.0,773.6 L866.3,771.1 L866.5,768.6 L866.8,766.2 L867.0,763.7 L867.3,761.2 L867.5,758.7 L867.8,756.2 L868.0,753.7 L868.2,751.2 L868.5,748.7 L868.7,746.2 L869.0,743.8 L869.2,741.3 L869.5,738.8 L869.7,736.3 L870.0,733.8 L870.2,731.3 L870.5,728.8 L870.7,726.3 L871.0,723.9 L871.2,721.4 L871.5,718.9 L871.7,716.4 L872.0,713.9 L872.2,711.4 L872.5,708.9 L872.7,706.4 L873.0,704.0 L873.2,701.5 L873.5,699.0 L873.7,696.5 L874.0,694.0 L874.3,691.5 L874.5,689.0 L874.8,686.6 L875.0,684.1 L875.3,681.6 L875.6,679.1 L875.8,676.6 L876.1,674.1 L876.3,671.6 L876.6,669.1 L876.9,666.7 L877.2,664.2 L877.4,661.7 L877.7,659.2 L878.0,656.7 L878.3,654.2 L878.6,651.8 L878.8,649.3 L879.1,646.8 L879.4,644.3 L879.7,641.8 L880.0,639.3 L880.3,636.9 L880.6,634.4 L880.9,631.9 L881.3,629.4 L881.6,626.9 L881.9,624.5 L882.2,622.0 L882.5,619.5 L882.9,617.0 L883.2,614.5 L883.5,612.1 L883.9,609.6 L884.2,607.1 L884.6,604.6 L884.9,602.2 L885.3,599.7 L885.6,597.2 L886.0,594.7 L886.3,592.3 L886.6,589.8 L887.0,587.3 L887.3,584.8 L887.7,582.4 L888.0,579.9 L888.3,577.4 L888.7,574.9 L889.0,572.4 L889.3,570.0 L889.7,567.5 L890.0,565.0 L890.3,562.5 L890.6,560.0 L890.9,557.6 L891.2,555.1 L891.5,552.6 L891.8,550.1 L892.1,547.6 L892.4,545.1 L892.6,542.7 L892.9,540.2 L893.2,537.7 L893.5,535.2 L893.7,532.7 L894.0,530.2 L894.3,527.7 L894.5,525.3 L894.8,522.8 L895.1,520.3 L895.3,517.8 L895.6,515.3 L895.9,512.8 L896.2,510.3 L896.5,507.9 L896.8,505.4 L897.0,502.9 L897.3,500.4 L897.6,497.9 L898.0,495.5 L898.3,493.0 L898.6,490.5 L898.9,488.0 L899.3,485.5 L899.6,483.1 L899.9,480.6 L900.3,478.1 L900.7,475.6 L901.1,473.2 L901.4,470.7 L901.8,468.2 L902.2,465.8 L902.7,463.3 L903.1,460.8 L903.5,458.4 L903.9,455.9 L904.4,453.5 L904.8,451.0 L905.3,448.6 L905.7,446.1 L906.2,443.6 L906.6,441.2 L907.1,438.7 L907.6,436.3 L908.0,433.8 L908.5,431.4 L909.0,428.9 L909.5,426.5 L909.9,424.0 L910.4,421.6 L910.8,419.1 L911.3,416.7 L911.8,414.2 L912.2,411.8 L912.6,409.3 L913.1,406.9 L913.5,404.4 L913.9,401.9 L914.3,399.5 L914.7,397.0 L915.1,394.5 L915.5,392.0 L915.9,389.5 L916.3,387.0 L916.7,384.5 L917.1,382.0 L917.5,379.5 L917.9,377.0 L918.3,374.4 L918.7,371.9 L919.2,369.3 L919.6,366.7 L920.1,364.2 L920.7,361.6 L921.3,359.0 L921.9,356.4 L922.6,353.9 L923.3,351.3 L924.1,348.7 L925.0,346.1 L925.9,343.6 L926.9,341.1 L928.0,338.6 L929.2,336.2 L930.4,333.9 L931.8,331.6 L933.2,329.5 L934.7,327.5 L936.2,325.6 L937.9,324.0 L939.6,322.6 L941.3,321.5 L943.1,320.7 L944.9,320.2 L946.7,320.2 L948.5,320.6 L950.3,321.4 L952.0,322.5 L953.6,323.9 L955.2,325.6 L956.6,327.4 L958.0,329.5 L959.3,331.6 L960.5,333.9 L961.6,336.3 L962.6,338.8 L963.6,341.3 L964.5,343.8 L965.4,346.4 L966.2,349.0 L966.9,351.6 L967.6,354.2 L968.3,356.8 L969.0,359.4 L969.7,361.9 L970.3,364.5 L970.9,367.0 L971.5,369.6 L972.1,372.1 L972.8,374.6 L973.4,377.1 L974.0,379.6 L974.6,382.0 L975.3,384.5 L975.9,386.9 L976.6,389.4 L977.3,391.8 L977.9,394.2 L978.6,396.6 L979.3,399.0 L980.0,401.4 L980.6,403.8 L981.3,406.2 L981.9,408.6 L982.6,411.1 L983.2,413.5 L983.9,415.9 L984.5,418.3 L985.1,420.7 L985.7,423.1 L986.3,425.5 L986.9,427.9 L987.5,430.4 L988.1,432.8 L988.6,435.2 L989.2,437.6 L989.8,440.1 L990.3,442.5 L990.8,444.9 L991.4,447.4 L991.9,449.8 L992.4,452.3 L992.9,454.7 L993.5,457.2 L994.0,459.6 L994.5,462.1 L994.9,464.5 L995.4,467.0 L995.9,469.4 L996.4,471.9 L996.9,474.3 L997.4,476.8 L997.8,479.2 L998.3,481.7 L998.8,484.1 L999.2,486.6 L999.7,489.1 L1000.2,491.5 L1000.6,494.0 L1001.1,496.4 L1001.5,498.9 L1002.0,501.4 L1002.4,503.8 L1002.9,506.3 L1003.3,508.7 L1003.8,511.2 L1004.2,513.7 L1004.7,516.1 L1005.1,518.6 L1005.5,521.0 L1006.0,523.5 L1006.4,526.0 L1006.8,528.4 L1007.2,530.9 L1007.7,533.4 L1008.1,535.8 L1008.5,538.3 L1008.9,540.8 L1009.3,543.2 L1009.7,545.7 L1010.1,548.2 L1010.5,550.6 L1010.9,553.1 L1011.3,555.6 L1011.7,558.0 L1012.1,560.5 L1012.5,563.0 L1012.9,565.4 L1013.3,567.9 L1013.7,570.4 L1014.1,572.9 L1014.5,575.3 L1014.9,577.8 L1015.2,580.3 L1015.6,582.7 L1016.0,585.2 L1016.4,587.7 L1016.8,590.1 L1017.2,592.6 L1017.6,595.1 L1018.1,597.5 L1018.5,600.0 L1018.9,602.5 L1019.3,604.9 L1019.8,607.4 L1020.2,609.8 L1020.6,612.3 L1021.1,614.8 L1021.6,617.2 L1022.0,619.7 L1022.5,622.1 L1023.0,624.6 L1023.5,627.0 L1024.0,629.5 L1024.5,631.9 L1025.0,634.4 L1025.5,636.8 L1026.1,639.3 L1026.6,641.7 L1027.1,644.1 L1027.7,646.6 L1028.2,649.0 L1028.8,651.5 L1029.3,653.9 L1029.9,656.3 L1030.4,658.8 L1031.0,661.2 L1031.5,663.7 L1032.1,666.1 L1032.6,668.5 L1033.2,671.0 L1033.7,673.4 L1034.2,675.9 L1034.8,678.3 L1035.3,680.7 L1035.8,683.2 L1036.4,685.6 L1036.9,688.1 L1037.4,690.5 L1037.9,693.0 L1038.5,695.4 L1039.0,697.9 L1039.5,700.3 L1040.0,702.7 L1040.6,705.2 L1041.1,707.6 L1041.6,710.1 L1042.1,712.5 L1042.7,715.0 L1043.2,717.4 L1043.8,719.8 L1044.3,722.3 L1044.9,724.7 L1045.4,727.2 L1046.0,729.6 L1046.6,732.0 L1047.1,734.5 L1047.7,736.9 L1048.3,739.3 L1048.9,741.7 L1049.5,744.2 L1050.1,746.6 L1050.7,749.0 L1051.4,751.4 L1052.0,753.8 L1052.6,756.3 L1053.3,758.7 L1053.9,761.1 L1054.6,763.5 L1055.2,765.9 L1055.9,768.3 L1056.5,770.7 L1057.2,773.2 L1057.8,775.6 L1058.5,778.0 L1059.2,780.4 L1059.9,782.8 L1060.5,785.2 L1061.2,787.6 L1061.9,790.0 L1062.6,792.4 L1063.2,794.8 L1063.9,797.2 L1064.6,799.6 L1065.3,802.0 L1066.0,804.4 L1066.7,806.8 L1067.4,809.3 L1068.1,811.7 L1068.8,814.1 L1069.5,816.4 L1070.2,818.8 L1071.0,821.2 L1071.7,823.6 L1072.4,826.0 L1073.2,828.4 L1073.9,830.8 L1074.7,833.2 L1075.5,835.6 L1076.3,838.0 L1077.1,840.4 L1077.9,842.7 L1078.7,845.1 L1079.5,847.5 L1080.3,849.8 L1081.2,852.2 L1082.1,854.5 L1083.0,856.9 L1083.9,859.2 L1084.8,861.6 L1085.8,863.9 L1086.7,866.2 L1087.7,868.5 L1088.8,870.8 L1089.8,873.1 L1090.9,875.4 L1092.0,877.6 L1093.1,879.8 L1094.3,882.1 L1095.5,884.2 L1096.8,886.4 L1098.0,888.6 L1099.4,890.7 L1100.7,892.8 L1102.1,894.8 L1103.6,896.9 L1105.1,898.8 L1106.6,900.8 L1108.2,902.7 L1109.8,904.5 L1111.5,906.3 L1113.3,908.1 L1115.1,909.8 L1117.0,911.4 L1118.9,913.0 L1120.8,914.5 L1122.9,916.0 L1124.9,917.5 L1127.0,918.8 L1129.1,920.2 L1131.3,921.5 L1133.4,922.9 L1135.5,924.2 L1137.6,925.6 L1139.7,927.0 L1141.7,928.4 L1143.7,929.9 L1145.6,931.5 L1147.5,933.1 L1149.3,934.8 L1151.0,936.6 L1152.6,938.4 L1154.2,940.3 L1155.6,942.3 L1157.1,944.3 L1158.4,946.4 L1159.7,948.5 L1161.0,950.6 L1162.2,952.8 L1163.4,955.0 L1164.5,957.2 L1165.6,959.5 L1166.7,961.8 L1167.7,964.0 L1168.7,966.4 L1169.6,968.7 L1170.6,971.0 L1171.5,973.4 L1172.4,975.7 L1173.3,978.1 L1174.1,980.5 L1175.0,982.9 L1175.8,985.3 L1176.7,987.7 L1177.5,990.1 L1178.3,992.5 L1179.1,995.0 L1180.0,997.5 L1180.8,999.9 L1181.6,1002.4 L1182.5,1005.0 L1183.3,1007.5 L1184.2,1010.0 L1185.1,1012.6 L1186.0,1015.2 L1187.0,1017.8 L1187.9,1020.4 L1188.9,1023.0 L1189.9,1025.6 L1191.0,1028.2 L1192.1,1030.8 L1193.2,1033.4 L1194.3,1035.9 L1195.5,1038.4 L1196.7,1040.8 L1198.0,1043.1 L1199.3,1045.4 L1200.6,1047.6 L1202.0,1049.7 L1203.4,1051.6 L1204.9,1053.4 L1206.4,1054.8 L1207.8,1055.9 L1209.3,1056.7 L1210.8,1057.0 L1212.3,1056.8 L1213.7,1056.2 L1215.2,1055.2 L1216.6,1053.8 L1217.9,1052.2 L1219.2,1050.3 L1220.5,1048.2 L1221.7,1046.0 L1222.8,1043.6 L1223.8,1041.2 L1224.8,1038.8 L1225.7,1036.3 L1226.5,1033.7 L1227.2,1031.1 L1227.9,1028.5 L1228.6,1025.9 L1229.2,1023.2 L1229.7,1020.5 L1230.2,1017.8 L1230.7,1015.1 L1231.1,1012.4 L1231.5,1009.7 L1231.8,1006.9 L1232.2,1004.2 L1232.5,1001.4 L1232.8,998.7 L1233.1,996.0 L1233.4,993.3 L1233.7,990.6 L1234.0,987.9 L1234.3,985.2 L1234.6,982.6 L1234.9,980.0 L1235.2,977.4 L1235.5,974.8 L1235.8,972.2 L1236.1,969.7 L1236.4,967.1 L1236.7,964.6 L1237.0,962.1 L1237.3,959.6 L1237.6,957.1 L1237.9,954.6 L1238.2,952.1 L1238.4,949.6 L1238.7,947.2 L1239.0,944.7 L1239.3,942.3 L1239.6,939.8 L1239.9,937.4 L1240.2,934.9 L1240.5,932.5 L1240.8,930.0 L1241.1,927.6 L1241.4,925.2 L1241.6,922.7 L1241.9,920.3 L1242.2,917.8 L1242.5,915.4 L1242.7,912.9 L1243.0,910.5 L1243.3,908.0 L1243.5,905.5 L1243.8,903.1 L1244.1,900.6 L1244.3,898.1 L1244.6,895.7 L1244.8,893.2 L1245.1,890.7 L1245.3,888.2 L1245.6,885.7 L1245.8,883.3 L1246.1,880.8 L1246.3,878.3 L1246.5,875.8 L1246.8,873.3 L1247.0,870.8 L1247.2,868.3 L1247.5,865.8 L1247.7,863.3 L1247.9,860.8 L1248.2,858.3 L1248.4,855.8 L1248.6,853.3 L1248.8,850.8 L1249.1,848.3 L1249.3,845.8 L1249.5,843.3 L1249.7,840.8 L1250.0,838.3 L1250.2,835.9 L1250.4,833.4 L1250.6,830.9 L1250.8,828.4 L1251.0,825.9 L1251.3,823.4 L1251.5,820.9 L1251.7,818.4 L1251.9,815.9 L1252.1,813.4 L1252.3,810.9 L1252.5,808.4 L1252.8,805.9 L1253.0,803.4 L1253.2,800.9 L1253.4,798.5 L1253.7,796.0 L1253.9,793.5 L1254.1,791.0 L1254.3,788.5 L1254.6,786.0 L1254.8,783.5 L1255.0,781.0 L1255.3,778.5 L1255.5,776.1 L1255.8,773.6 L1256.0,771.1 L1256.3,768.6 L1256.5,766.1 L1256.8,763.6 L1257.1,761.1 L1257.3,758.7 L1257.6,756.2 L1257.9,753.7 L1258.2,751.2 L1258.4,748.7 L1258.7,746.2 L1259.0,743.8 L1259.3,741.3 L1259.6,738.8 L1259.9,736.3 L1260.2,733.8 L1260.5,731.4 L1260.9,728.9 L1261.2,726.4 L1261.5,723.9 L1261.8,721.4 L1262.1,719.0 L1262.5,716.5 L1262.8,714.0 L1263.1,711.5 L1263.4,709.0 L1263.8,706.6 L1264.1,704.1 L1264.4,701.6 L1264.8,699.1 L1265.1,696.7 L1265.4,694.2 L1265.8,691.7 L1266.1,689.2 L1266.4,686.7 L1266.7,684.3 L1267.1,681.8 L1267.4,679.3 L1267.7,676.8 L1268.0,674.3 L1268.4,671.9 L1268.7,669.4 L1269.0,666.9 L1269.3,664.4 L1269.6,661.9 L1269.9,659.5 L1270.2,657.0 L1270.5,654.5 L1270.9,652.0 L1271.2,649.5 L1271.5,647.1 L1271.8,644.6 L1272.1,642.1 L1272.3,639.6 L1272.6,637.1 L1272.9,634.6 L1273.2,632.2 L1273.5,629.7 L1273.8,627.2 L1274.1,624.7 L1274.3,622.2 L1274.6,619.7 L1274.9,617.3 L1275.1,614.8 L1275.4,612.3 L1275.7,609.8 L1275.9,607.3 L1276.2,604.8 L1276.4,602.3 L1276.7,599.9 L1277.0,597.4 L1277.2,594.9 L1277.5,592.4 L1277.7,589.9 L1278.0,587.4 L1278.2,584.9 L1278.5,582.4 L1278.8,580.0 L1279.0,577.5 L1279.3,575.0 L1279.5,572.5 L1279.8,570.0 L1280.0,567.5 L1280.3,565.0 L1280.6,562.6 L1280.8,560.1 L1281.1,557.6 L1281.4,555.1 L1281.6,552.6 L1281.9,550.1 L1282.2,547.6 L1282.5,545.1 L1282.7,542.7 L1283.0,540.2 L1283.3,537.7 L1283.6,535.2 L1283.9,532.7 L1284.2,530.2 L1284.5,527.7 L1284.8,525.3 L1285.1,522.8 L1285.4,520.3 L1285.7,517.8 L1286.0,515.3 L1286.3,512.9 L1286.7,510.4 L1287.0,507.9 L1287.3,505.4 L1287.6,502.9 L1287.9,500.5 L1288.3,498.0 L1288.6,495.5 L1288.9,493.1 L1289.2,490.6 L1289.6,488.1 L1289.9,485.7 L1290.2,483.2 L1290.5,480.7 L1290.9,478.3 L1291.2,475.8 L1291.5,473.3 L1291.8,470.9 L1292.2,468.4 L1292.5,466.0 L1292.8,463.5 L1293.1,461.1 L1293.5,458.6 L1293.8,456.2 L1294.1,453.7 L1294.5,451.3 L1294.8,448.8 L1295.1,446.3 L1295.5,443.8 L1295.8,441.4 L1296.1,438.9 L1296.5,436.4 L1296.8,433.9 L1297.2,431.3 L1297.5,428.8 L1297.9,426.3 L1298.3,423.7 L1298.6,421.1 L1299.0,418.6 L1299.4,416.0 L1299.7,413.4 L1300.1,410.7 L1300.5,408.1 L1300.9,405.4 L1301.3,402.7 L1301.8,400.1 L1302.2,397.4 L1302.7,394.7 L1303.2,392.0 L1303.7,389.3 L1304.3,386.7 L1304.9,384.0 L1305.6,381.4 L1306.3,378.8 L1307.0,376.2 L1307.9,373.7 L1308.8,371.2 L1309.7,368.7 L1310.7,366.3 L1311.8,363.9 L1313.0,361.6 L1314.3,359.4 L1315.6,357.4 L1317.0,355.5 L1318.5,353.8 L1320.0,352.3 L1321.7,351.0 L1323.3,350.0 L1325.0,349.4 L1326.8,349.1 L1328.5,349.2 L1330.2,349.8 L1331.8,350.7 L1333.4,351.9 L1334.9,353.4 L1336.3,355.0 L1337.6,356.9 L1338.9,358.9 L1340.0,361.1 L1341.2,363.4 L1342.2,365.7 L1343.1,368.1 L1344.0,370.5 L1344.9,373.0 L1345.7,375.5 L1346.4,378.1 L1347.0,380.6 L1347.7,383.2 L1348.2,385.9 L1348.8,388.5 L1349.3,391.2 L1349.7,393.8 L1350.2,396.5 L1350.6,399.2 L1350.9,401.9 L1351.3,404.6 L1351.6,407.3 L1352.0,410.0 L1352.3,412.7 L1352.6,415.4 L1352.9,418.0 L1353.2,420.7 L1353.6,423.3 L1353.9,425.9 L1354.2,428.5 L1354.5,431.1 L1354.9,433.7 L1355.2,436.2 L1355.5,438.8 L1355.9,441.3 L1356.2,443.8 L1356.5,446.3 L1356.9,448.8 L1357.2,451.3 L1357.6,453.8 L1357.9,456.3 L1358.3,458.7 L1358.6,461.2 L1359.0,463.7 L1359.3,466.1 L1359.7,468.6 L1360.0,471.0 L1360.4,473.4 L1360.8,475.9 L1361.1,478.3 L1361.5,480.8 L1361.8,483.2 L1362.2,485.6 L1362.6,488.1 L1362.9,490.5 L1363.3,493.0 L1363.6,495.4 L1364.0,497.9 L1364.3,500.3 L1364.7,502.8 L1365.1,505.2 L1365.4,507.7 L1365.8,510.2 L1366.1,512.6 L1366.5,515.1 L1366.8,517.6 L1367.2,520.0 L1367.6,522.5 L1367.9,525.0 L1368.3,527.4 L1368.6,529.9 L1369.0,532.4 L1369.3,534.9 L1369.7,537.3 L1370.0,539.8 L1370.4,542.3 L1370.8,544.8 L1371.1,547.3 L1371.5,549.7 L1371.8,552.2 L1372.2,554.7 L1372.5,557.2 L1372.9,559.7 L1373.2,562.2 L1373.5,564.6 L1373.9,567.1 L1374.2,569.6 L1374.6,572.1 L1374.9,574.6 L1375.3,577.0 L1375.6,579.5 L1376.0,582.0 L1376.3,584.5 L1376.6,587.0 L1377.0,589.5 L1377.3,591.9 L1377.7,594.4 L1378.0,596.9 L1378.3,599.4 L1378.7,601.8 L1379.0,604.3 L1379.3,606.8 L1379.7,609.3 L1380.0,611.8 L1380.4,614.2 L1380.7,616.7 L1381.0,619.2 L1381.4,621.7 L1381.7,624.1 L1382.0,626.6 L1382.4,629.1 L1382.7,631.6 L1383.1,634.1 L1383.4,636.5 L1383.7,639.0 L1384.1,641.5 L1384.4,644.0 L1384.7,646.4 L1385.1,648.9 L1385.4,651.4 L1385.8,653.9 L1386.1,656.3 L1386.5,658.8 L1386.8,661.3 L1387.2,663.8 L1387.5,666.2 L1387.8,668.7 L1388.2,671.2 L1388.5,673.7 L1388.9,676.1 L1389.3,678.6 L1389.6,681.1 L1390.0,683.6 L1390.3,686.0 L1390.7,688.5 L1391.1,691.0 L1391.4,693.4 L1391.8,695.9 L1392.2,698.4 L1392.6,700.8 L1393.0,703.3 L1393.4,705.8 L1393.8,708.2 L1394.2,710.7 L1394.6,713.2 L1395.0,715.6 L1395.4,718.1 L1395.8,720.6 L1396.3,723.0 L1396.7,725.5 L1397.2,727.9 L1397.6,730.4 L1398.1,732.9 L1398.5,735.3 L1399.0,737.8 L1399.5,740.2 L1400.0,742.7 L1400.4,745.1 L1400.9,747.6 L1401.4,750.0 L1401.9,752.5 L1402.4,755.0 L1402.9,757.4 L1403.4,759.9 L1404.0,762.3 L1404.5,764.8 L1405.0,767.3 L1405.5,769.7 L1406.1,772.2 L1406.6,774.6 L1407.2,777.1 L1407.7,779.6 L1408.3,782.0 L1408.9,784.5 L1409.5,786.9 L1410.1,789.4 L1410.8,791.8 L1411.4,794.3 L1412.1,796.7 L1412.8,799.2 L1413.5,801.6 L1414.3,804.0 L1415.0,806.4 L1415.8,808.9 L1416.6,811.3 L1417.5,813.7 L1418.4,816.0 L1419.3,818.4 L1420.3,820.7 L1421.4,823.0 L1422.5,825.3 L1423.7,827.5 L1425.0,829.6 L1426.4,831.6 L1427.9,833.6 L1429.5,835.5 L1431.2,837.3 L1433.0,839.0 L1435.0,840.6 L1437.1,842.0 L1439.2,843.3 L1441.5,844.4 L1443.8,845.4 L1446.2,846.1 L1448.7,846.7 L1451.1,847.1 L1453.6,847.2 L1456.2,847.1 L1458.7,846.9 L1461.2,846.6 L1463.7,846.3 L1466.3,845.9 L1468.8,845.5 L1471.4,845.1 L1473.9,844.8 L1476.4,844.6 L1478.8,844.5 L1481.3,844.6 L1483.7,844.9 L1486.1,845.4 L1488.4,846.1 L1490.7,847.1 L1492.9,848.3 L1495.0,849.6 L1497.1,851.1 L1499.1,852.7 L1501.0,854.3 L1502.9,856.1 L1504.6,857.9 L1506.3,859.7 L1507.9,861.6 L1509.4,863.6 L1510.9,865.6 L1512.3,867.7 L1513.7,869.8 L1515.0,871.9 L1516.2,874.1 L1517.4,876.3 L1518.6,878.5 L1519.7,880.7 L1520.8,883.0 L1521.9,885.3 L1522.9,887.6 L1523.9,889.9 L1524.9,892.2 L1525.8,894.5 L1526.8,896.8 L1527.7,899.2 L1528.6,901.5 L1529.4,903.9 L1530.3,906.3 L1531.1,908.6 L1532.0,911.0 L1532.8,913.4 L1533.6,915.8 L1534.4,918.1 L1535.1,920.5 L1535.9,922.9 L1536.7,925.3 L1537.4,927.7 L1538.1,930.1 L1538.9,932.5 L1539.6,934.9 L1540.3,937.2 L1541.1,939.6 L1541.8,942.0 L1542.5,944.4 L1543.2,946.8 L1543.9,949.2 L1544.6,951.6 L1545.3,954.0 L1546.0,956.4 L1546.6,958.8 L1547.3,961.2 L1548.0,963.6 L1548.6,966.0 L1549.3,968.4 L1550.0,970.7 L1550.6,973.1 L1551.3,975.5 L1551.9,977.9 L1552.6,980.3 L1553.2,982.7 L1553.9,985.2 L1554.5,987.6 L1555.1,990.0 L1555.8,992.4 L1556.4,994.9 L1557.1,997.4 L1557.7,999.8 L1558.3,1002.3 L1559.0,1004.8 L1559.6,1007.4 L1560.3,1009.9 L1560.9,1012.5 L1561.5,1015.0 L1562.2,1017.6 L1562.8,1020.3 L1563.5,1022.9 L1564.1,1025.6 L1564.8,1028.2 L1565.5,1030.9 L1566.2,1033.6 L1567.0,1036.2 L1567.7,1038.9 L1568.5,1041.5 L1569.4,1044.2 L1570.2,1046.8 L1571.1,1049.3 L1572.1,1051.9 L1573.1,1054.4 L1574.2,1056.9 L1575.3,1059.3 L1576.4,1061.7 L1577.7,1064.0 L1578.9,1066.2 L1580.3,1068.2 L1581.6,1069.9 L1583.0,1071.5 L1584.5,1072.7 L1586.0,1073.5 L1587.5,1073.9 L1589.0,1073.9 L1590.5,1073.4 L1592.1,1072.5 L1593.6,1071.3 L1595.1,1069.8 L1596.5,1068.1 L1598.0,1066.1 L1599.3,1064.1 L1600.6,1061.9 L1601.9,1059.6 L1603.1,1057.3 L1604.2,1054.9 L1605.3,1052.4 L1606.3,1049.8 L1607.3,1047.2 L1608.3,1044.6 L1609.2,1041.9 L1610.1,1039.2 L1610.9,1036.5 L1611.7,1033.8 L1612.5,1031.2 L1613.3,1028.5 L1614.0,1025.8 L1614.7,1023.2 L1615.4,1020.6 L1616.1,1018.0 L1616.8,1015.5 L1617.4,1012.9 L1618.0,1010.4 L1618.6,1007.8 L1619.2,1005.3 L1619.8,1002.8 L1620.4,1000.3 L1621.0,997.9 L1621.5,995.4 L1622.1,992.9 L1622.6,990.5 L1623.1,988.0 L1623.6,985.6 L1624.2,983.1 L1624.7,980.7 L1625.2,978.3 L1625.7,975.8 L1626.2,973.4 L1626.7,970.9 L1627.2,968.5 L1627.7,966.1 L1628.2,963.6 L1628.7,961.2 L1629.2,958.7 L1629.7,956.3 L1630.2,953.9 L1630.7,951.4 L1631.2,949.0 L1631.7,946.5 L1632.2,944.1 L1632.7,941.7 L1633.2,939.2 L1633.7,936.8 L1634.2,934.3 L1634.7,931.9 L1635.2,929.4 L1635.7,927.0 L1636.2,924.6 L1636.7,922.1 L1637.2,919.7 L1637.6,917.2 L1638.1,914.8 L1638.6,912.3 L1639.1,909.9 L1639.6,907.4 L1640.1,905.0 L1640.6,902.5 L1641.0,900.1 L1641.5,897.6 L1642.0,895.2 L1642.5,892.7 L1643.0,890.3 L1643.5,887.8 L1643.9,885.3 L1644.4,882.9 L1644.9,880.4 L1645.4,878.0 L1645.9,875.5 L1646.4,873.1 L1646.9,870.6 L1647.3,868.2 L1647.8,865.7 L1648.3,863.3 L1648.8,860.8 L1649.3,858.4 L1649.8,855.9 L1650.3,853.5 L1650.8,851.0 L1651.2,848.6 L1651.7,846.1 L1652.2,843.6 L1652.7,841.2 L1653.1,838.7 L1653.6,836.3 L1654.0,833.8 L1654.5,831.4 L1655.0,828.9 L1655.4,826.4 L1655.8,824.0 L1656.3,821.5 L1656.7,819.1 L1657.1,816.6 L1657.6,814.1 L1658.0,811.7 L1658.4,809.2 L1658.8,806.7 L1659.2,804.3 L1659.6,801.8 L1660.0,799.3 L1660.4,796.9 L1660.8,794.4 L1661.3,791.9 L1661.7,789.5 L1662.1,787.0 L1662.5,784.5 L1662.9,782.1 L1663.3,779.6 L1663.7,777.1 L1664.1,774.7 L1664.5,772.2 L1664.9,769.7 L1665.3,767.3 L1665.7,764.8 L1666.2,762.3 L1666.6,759.9 L1667.0,757.4 L1667.4,754.9 L1667.9,752.5 L1668.3,750.0 L1668.7,747.6 L1669.2,745.1 L1669.6,742.6 L1670.1,740.2 L1670.5,737.7 L1671.0,735.3 L1671.4,732.8 L1671.9,730.3 L1672.3,727.9 L1672.8,725.4 L1673.2,723.0 L1673.7,720.5 L1674.2,718.1 L1674.6,715.6 L1675.1,713.2 L1675.6,710.7 L1676.1,708.3 L1676.6,705.8 L1677.1,703.4 L1677.6,701.0 L1678.0,698.5 L1678.5,696.1 L1679.0,693.6 L1679.5,691.2 L1680.1,688.8 L1680.6,686.3 L1681.1,683.9 L1681.6,681.4 L1682.1,679.0 L1682.6,676.5 L1683.1,674.1 L1683.6,671.6 L1684.2,669.2 L1684.7,666.7 L1685.2,664.3 L1685.7,661.8 L1686.2,659.3 L1686.8,656.9 L1687.3,654.4 L1687.8,651.9 L1688.3,649.4 L1688.9,646.9 L1689.4,644.4 L1690.0,641.9 L1690.5,639.4 L1691.1,636.9 L1691.7,634.4 L1692.3,631.9 L1693.0,629.4 L1693.6,626.9 L1694.3,624.3 L1695.1,621.8 L1695.9,619.3 L1696.7,616.8 L1697.5,614.3 L1698.4,611.8 L1699.4,609.4 L1700.4,606.9 L1701.5,604.4 L1702.6,602.0 L1703.8,599.6 L1705.0,597.2 L1706.3,594.9 L1707.7,592.7 L1709.2,590.6 L1710.7,588.5 L1712.3,586.6 L1714.0,584.8 L1715.8,583.1 L1717.7,581.6 L1719.6,580.3 L1721.5,579.3 L1723.5,578.6 L1725.4,578.1 L1727.4,578.0 L1729.4,578.3 L1731.4,578.9 L1733.3,579.8 L1735.2,580.9 L1737.1,582.3 L1738.9,583.9 L1740.6,585.7 L1742.2,587.6 L1743.8,589.6 L1745.3,591.7 L1746.7,593.9 L1748.0,596.1 L1749.3,598.5 L1750.4,600.8 L1751.5,603.3 L1752.6,605.7 L1753.6,608.2 L1754.5,610.8 L1755.4,613.3 L1756.2,615.9 L1757.1,618.4 L1757.8,621.0 L1758.6,623.5 L1759.3,626.1 L1760.0,628.6 L1760.6,631.1 L1761.3,633.7 L1761.9,636.2 L1762.5,638.7 L1763.1,641.2 L1763.6,643.7 L1764.2,646.2 L1764.7,648.7 L1765.3,651.1 L1765.8,653.6 L1766.3,656.1 L1766.8,658.6 L1767.3,661.0 L1767.8,663.5 L1768.3,666.0 L1768.8,668.4 L1769.2,670.9 L1769.7,673.3 L1770.2,675.8 L1770.7,678.2 L1771.2,680.7 L1771.7,683.1 L1772.1,685.6 L1772.6,688.0 L1773.1,690.5 L1773.6,692.9 L1774.0,695.4 L1774.5,697.8 L1775.0,700.3 L1775.4,702.7 L1775.9,705.2 L1776.4,707.6 L1776.8,710.1 L1777.3,712.5 L1777.7,715.0 L1778.2,717.4 L1778.7,719.9 L1779.1,722.3 L1779.6,724.8 L1780.0,727.2 L1780.5,729.7 L1780.9,732.2 L1781.4,734.6 L1781.8,737.1 L1782.3,739.5 L1782.7,742.0 L1783.2,744.4 L1783.6,746.9 L1784.0,749.4 L1784.5,751.8 L1784.9,754.3 L1785.4,756.7 L1785.8,759.2 L1786.2,761.7 L1786.7,764.1 L1787.1,766.6 L1787.6,769.1 L1788.0,771.5 L1788.4,774.0 L1788.8,776.4 L1789.3,778.9 L1789.7,781.4 L1790.1,783.8 L1790.6,786.3 L1791.0,788.8 L1791.4,791.2 L1791.8,793.7 L1792.3,796.2 L1792.7,798.6 L1793.1,801.1 L1793.5,803.6 L1793.9,806.0 L1794.3,808.5 L1794.8,811.0 L1795.2,813.4 L1795.6,815.9 L1796.0,818.4 L1796.4,820.8 L1796.8,823.3 L1797.2,825.8 L1797.6,828.2 L1798.0,830.7 L1798.4,833.2 L1798.8,835.6 L1799.2,838.1 L1799.6,840.6 L1800.0,843.0 L1800.4,845.5 L1800.8,848.0 L1801.2,850.4 L1801.6,852.9 L1802.0,855.3 L1802.5,857.8 L1802.9,860.3 L1803.3,862.7 L1803.8,865.2 L1804.2,867.6 L1804.6,870.1 L1805.1,872.6 L1805.6,875.0 L1806.0,877.5 L1806.5,879.9 L1807.0,882.4 L1807.5,884.8 L1808.0,887.3 L1808.5,889.7 L1809.0,892.2 L1809.6,894.6 L1810.1,897.0 L1810.6,899.5 L1811.2,901.9 L1811.8,904.4 L1812.4,906.8 L1812.9,909.3 L1813.6,911.7 L1814.2,914.1 L1814.8,916.6 L1815.4,919.0 L1816.1,921.5 L1816.8,923.9 L1817.5,926.4 L1818.2,928.8 L1818.9,931.2 L1819.7,933.7 L1820.5,936.1 L1821.3,938.5 L1822.1,940.9 L1823.0,943.3 L1823.9,945.8 L1824.8,948.2 L1825.8,950.6 L1826.8,952.9 L1827.8,955.3 L1828.9,957.7 L1830.0,960.1 L1831.2,962.4 L1832.4,964.7 L1833.7,966.9 L1835.1,969.1 L1836.4,971.3 L1837.9,973.4 L1839.4,975.4 L1841.0,977.4 L1842.7,979.3 L1844.4,981.1 L1846.2,982.7 L1848.1,984.3 L1850.0,985.7 L1852.0,986.9 L1854.1,987.9 L1856.3,988.8 L1858.5,989.4 L1860.7,989.9 L1862.9,990.0 L1865.2,989.9 L1867.4,989.6 L1869.7,989.0 L1871.9,988.3 L1874.2,987.3 L1876.4,986.3 L1878.5,985.1 L1880.7,983.7 L1882.8,982.3 L1884.9,980.8 L1887.0,979.2 L1889.0,977.5 L1891.0,975.8 L1893.0,974.1 L1895.0,972.3 L1897.0,970.5 L1899.0,968.8 L1901.0,967.0 L1902.9,965.2 L1904.9,963.4 L1906.9,961.7 L1908.9,960.0 L1911.0,958.4 L1913.0,956.8 L1915.1,955.3 L1917.2,953.8 L1919.3,952.5 L1921.5,951.3 L1923.7,950.2 L1925.9,949.3 L1928.2,948.5 L1930.5,947.8 L1932.8,947.4 L1935.1,947.1 L1937.4,947.0 L1939.7,947.2 L1942.1,947.5 L1944.4,948.0 L1946.7,948.7 L1949.0,949.6 L1951.2,950.5 L1953.5,951.6 L1955.7,952.8 L1957.9,954.1 L1960.0,955.4 L1962.2,956.8 L1964.4,958.2 L1966.5,959.7 L1968.6,961.2 L1970.8,962.7 L1972.9,964.2 L1975.1,965.6 L1977.2,967.1 L1979.4,968.5 L1981.6,969.9 L1983.8,971.2 L1986.0,972.4 L1988.3,973.6 L1990.6,974.7 L1992.8,975.7 L1995.2,976.6 L1997.5,977.4 L1999.9,978.1 L2002.2,978.6 L2004.6,979.1 L2007.0,979.3 L2009.4,979.5 L2011.8,979.5 L2014.3,979.3 L2016.7,979.0 L2019.1,978.5 L2021.5,977.9 L2023.9,977.3 L2026.3,976.5 L2028.6,975.7 L2031.0,974.8 L2033.3,973.8 L2035.6,972.7 L2037.9,971.7 L2040.2,970.5 L2042.4,969.4 L2044.7,968.2 L2046.9,966.9 L2049.1,965.7 L2051.3,964.4 L2053.5,963.1 L2055.7,961.8 L2057.9,960.5 L2059.5,959.5"/>
</g>
<g font-family="'DejaVu Sans', 'Liberation Sans', sans-serif" font-weight="200" fill="#262626" stroke="#262626" stroke-width="2.0" stroke-linejoin="round">
<text x="439.5" y="1538.5" font-size="60.6" text-anchor="middle">100</text>
<text x="833.5" y="1538.5" font-size="60.6" text-anchor="middle">200</text>
<text x="1227.5" y="1538.5" font-size="60.6" text-anchor="middle">300</text>
<text x="1621.5" y="1538.5" font-size="60.6" text-anchor="middle">400</text>
<text x="2015.5" y="1538.5" font-size="60.6" text-anchor="middle">500</text>
<text x="259" y="79.0" font-size="60.6" text-anchor="end">1</text>
<text x="259" y="358.5" font-size="60.6" text-anchor="end">0.95</text>
<text x="259" y="638.5" font-size="60.6" text-anchor="end">0.9</text>
<text x="259" y="918.0" font-size="60.6" text-anchor="end">0.85</text>
<text x="259" y="1198.0" font-size="60.6" text-anchor="end">0.8</text>
<text x="259" y="1477.5" font-size="60.6" text-anchor="end">0.75</text>
<text x="1168.5" y="1621" font-size="66" letter-spacing="0.5" text-anchor="middle">Headway [s]</text>
<text transform="translate(89,756) rotate(-90)" font-size="66" letter-spacing="0.5" text-anchor="middle">Receptivity</text>
</g>
</svg>
</body>
</html>
